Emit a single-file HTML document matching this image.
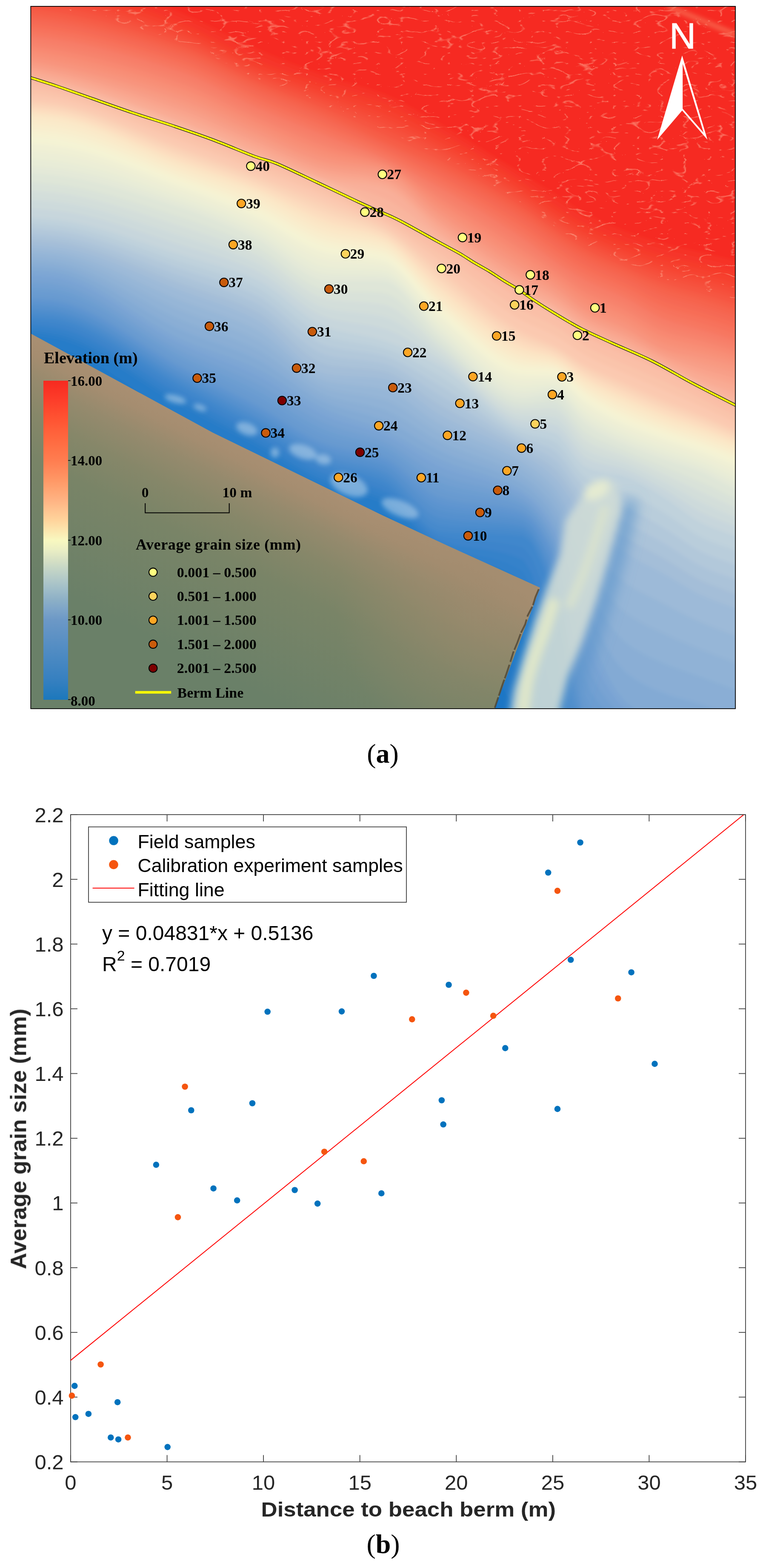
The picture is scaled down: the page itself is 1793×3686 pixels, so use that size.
<!DOCTYPE html>
<html><head><meta charset="utf-8"><title>Figure</title>
<style>html,body{margin:0;padding:0;background:#fff;}body{width:1793px;height:3686px;overflow:hidden;}svg{display:block;}</style>
</head><body>
<svg width="1793" height="3686" viewBox="0 0 1793 3686">
<rect x="0" y="0" width="1793" height="3686" fill="#fff"/>
<defs>
<clipPath id="mclip"><rect x="73" y="15" width="1655" height="1651"/></clipPath>
<filter id="fblur" x="-5%" y="-5%" width="110%" height="110%"><feGaussianBlur stdDeviation="4"/></filter>
<filter id="fblur16" filterUnits="userSpaceOnUse" x="0" y="0" width="1793" height="1700"><feGaussianBlur stdDeviation="16"/></filter>
<filter id="fblur6" filterUnits="userSpaceOnUse" x="0" y="0" width="1793" height="1700"><feGaussianBlur stdDeviation="6"/></filter>
<filter id="fblur8" filterUnits="userSpaceOnUse" x="0" y="0" width="1793" height="1700"><feGaussianBlur stdDeviation="9"/></filter>
<linearGradient id="landg" gradientUnits="userSpaceOnUse" x1="700" y1="1115" x2="470" y2="1560"><stop offset="0" stop-color="#a98f72"/><stop offset="0.07" stop-color="#a58d70"/><stop offset="0.18" stop-color="#958a6d"/><stop offset="0.32" stop-color="#868769"/><stop offset="0.5" stop-color="#798467"/><stop offset="1" stop-color="#6a8068"/></linearGradient>
<radialGradient id="landr" gradientUnits="userSpaceOnUse" cx="1120" cy="1430" r="330"><stop offset="0" stop-color="#9e8a6d" stop-opacity="0.6"/><stop offset="1" stop-color="#9e8a6d" stop-opacity="0"/></radialGradient>
<linearGradient id="cbar" x1="0" y1="0" x2="0" y2="1">
<stop offset="0.0000" stop-color="#f62a20"/>
<stop offset="0.0312" stop-color="#fa3425"/>
<stop offset="0.0625" stop-color="#fd3e2a"/>
<stop offset="0.0938" stop-color="#fe4a2e"/>
<stop offset="0.1250" stop-color="#ff5533"/>
<stop offset="0.1562" stop-color="#ff603a"/>
<stop offset="0.1875" stop-color="#ff6a40"/>
<stop offset="0.2188" stop-color="#ff7448"/>
<stop offset="0.2500" stop-color="#ff7d50"/>
<stop offset="0.2812" stop-color="#ff8a5b"/>
<stop offset="0.3125" stop-color="#ff9866"/>
<stop offset="0.3438" stop-color="#ffa674"/>
<stop offset="0.3750" stop-color="#ffb383"/>
<stop offset="0.4062" stop-color="#ffc490"/>
<stop offset="0.4375" stop-color="#ffd49c"/>
<stop offset="0.4688" stop-color="#fce6ae"/>
<stop offset="0.5000" stop-color="#f8f8c0"/>
<stop offset="0.5312" stop-color="#eaeec4"/>
<stop offset="0.5625" stop-color="#d6e0c4"/>
<stop offset="0.5938" stop-color="#c2d4c6"/>
<stop offset="0.6250" stop-color="#b0c8c8"/>
<stop offset="0.6562" stop-color="#9ebcc8"/>
<stop offset="0.6875" stop-color="#8cafc6"/>
<stop offset="0.7188" stop-color="#7ca4c8"/>
<stop offset="0.7500" stop-color="#6c98c6"/>
<stop offset="0.7812" stop-color="#6394c5"/>
<stop offset="0.8125" stop-color="#5a90c4"/>
<stop offset="0.8438" stop-color="#518cc3"/>
<stop offset="0.8750" stop-color="#4888c2"/>
<stop offset="0.9062" stop-color="#3f84c1"/>
<stop offset="0.9375" stop-color="#3680c0"/>
<stop offset="0.9688" stop-color="#297cbe"/>
<stop offset="1.0000" stop-color="#1c78bc"/>
</linearGradient>
<filter id="wisp" filterUnits="userSpaceOnUse" x="72" y="14" width="1657" height="1000"><feTurbulence type="turbulence" baseFrequency="0.018 0.04" numOctaves="2" seed="11" result="n"/><feColorMatrix in="n" type="matrix" values="0 0 0 0 1  0 0 0 0 0.50  0 0 0 0 0.36  -12 0 0 0 1.1"/></filter>
<clipPath id="redclip"><path d="M1780,-10 L40,-10 L40,7.9 L60,9.8 L80,11.9 L100,14.4 L120,17.1 L140,20.3 L160,23.8 L180,27.8 L200,32.1 L220,36.7 L240,41.7 L260,47 L280,52.6 L300,58.4 L320,64.5 L340,70.8 L360,77.3 L380,84 L400,90.9 L420,97.9 L440,105.2 L460,113.5 L480,122.8 L500,132.8 L520,143.1 L540,153.6 L560,163.9 L580,173.7 L600,182.9 L620,191.3 L640,199.5 L660,207.4 L680,215.1 L700,222.7 L720,230.4 L740,238.1 L760,246 L780,254.1 L800,262.2 L820,270.4 L840,278.6 L860,287 L880,295.5 L900,304.3 L920,313.2 L940,322.3 L960,331.5 L980,340.9 L1000,350.6 L1020,360.5 L1040,370.8 L1060,381.2 L1080,391.9 L1100,402.7 L1120,413.8 L1140,425.2 L1160,436.8 L1180,448.7 L1200,461 L1220,473.6 L1240,486.7 L1260,501.1 L1280,515.9 L1300,530 L1320,543.4 L1340,556.5 L1360,568.8 L1380,580 L1400,589.9 L1420,598.9 L1440,607.5 L1460,615.8 L1480,624.3 L1500,632.9 L1520,641.4 L1540,649.4 L1560,656.5 L1580,662.5 L1600,667.8 L1620,672.8 L1640,678 L1660,683.5 L1680,689.2 L1700,695.1 L1720,701.3 L1740,708.1 L1760,715.6 L1780,723.7 Z"/></clipPath>
</defs>
<g clip-path="url(#mclip)">
<g filter="url(#fblur)">
<rect x="40" y="-10" width="1740" height="1720" fill="#1a74c4"/>
<polygon points="30,900 50,900 70,900 90,900 110,900 130,900.4 150,903.7 170,909.8 190,918.5 210,929.4 230,942.2 250,956.6 270,972.2 290,988.7 310,1005.7 330,1022.9 350,1039.9 370,1056.5 390,1072.3 410,1086.9 430,1100 450,1112.1 470,1124.1 490,1135.9 510,1147.6 530,1159.2 550,1170.8 570,1182.5 590,1194.1 610,1206.2 630,1220.2 650,1235.5 670,1251.2 690,1266.1 710,1279.5 730,1290.2 750,1297.4 770,1300 790,1300 810,1300 830,1300 850,1300 870,1300 890,1300 910,1301.4 930,1311.7 950,1330.3 970,1355.1 990,1384 1010,1414.8 1030,1445.5 1050,1480.4 1070,1527.7 1090,1583.8 1110,1644.7 1130,1706.8 1150,1766.2 1170,1819 1190,1861.4 1210,1889.7 1230,1900 1250,1900 1270,1900 1290,1900 1310,1900 1330,1900 1350,1900 1370,1900 1390,1901.2 1410,1909.3 1430,1922.4 1450,1937 1470,1950 1490,1962.8 1510,1977.2 1530,1990 1550,1998.4 1570,2000 1590,2000 1610,2000 1630,2000 1650,2000 1670,2000 1690,2000 1710,2000 1730,2000 1750,2003.2 1770,2010.7 1790,2020 1780,-600 40,-600" fill="#1b75c4"/>
<polygon points="30,877 50,877.1 70,877.5 90,878 110,878.6 130,879.7 150,883.4 170,889.7 190,898.3 210,909 230,921.3 250,935.1 270,950 290,965.6 310,981.8 330,998.1 350,1014.4 370,1030.2 390,1045.3 410,1059.3 430,1072 450,1083.8 470,1095.5 490,1107 510,1118.5 530,1129.9 550,1141.3 570,1152.7 590,1164.2 610,1176.1 630,1189.5 650,1204 670,1218.7 690,1233 710,1245.9 730,1256.8 750,1264.7 770,1269 790,1270.7 810,1271.9 830,1272.7 850,1273.4 870,1274.4 890,1276 910,1279.4 930,1290.5 950,1308.8 970,1332.3 990,1359.2 1010,1387.7 1030,1415.9 1050,1445.7 1070,1482 1090,1522.9 1110,1567 1130,1612.4 1150,1657.5 1170,1700.5 1190,1739.7 1210,1773.5 1230,1800 1250,1821.2 1270,1839.4 1290,1854.2 1310,1864.8 1330,1872.5 1350,1879 1370,1885.9 1390,1894.7 1410,1905.2 1430,1916.8 1450,1928.6 1470,1940 1490,1952.8 1510,1967.2 1530,1980 1550,1988.4 1570,1990 1590,1990 1610,1990 1630,1990 1650,1990 1670,1990.3 1690,1991.1 1710,1992.4 1730,1994.1 1750,1998.2 1770,2005.3 1790,2014 1780,-600 40,-600" fill="#1e76c5"/>
<polygon points="30,854 50,854.3 70,855 90,856 110,857.3 130,859.1 150,863.1 170,869.5 190,878.1 210,888.4 230,900.3 250,913.5 270,927.6 290,942.5 310,957.8 330,973.4 350,988.8 370,1003.8 390,1018.2 410,1031.7 430,1044 450,1055.5 470,1066.9 490,1078.2 510,1089.4 530,1100.6 550,1111.8 570,1123 590,1134.3 610,1145.9 630,1158.8 650,1172.6 670,1186.6 690,1200.3 710,1212.9 730,1223.8 750,1232.4 770,1238 790,1241.3 810,1243.5 830,1245.2 850,1246.9 870,1249 890,1252 910,1257.2 930,1269.2 950,1287.1 970,1309.5 990,1334.5 1010,1360.7 1030,1386.3 1050,1411.7 1070,1439.2 1090,1468.7 1110,1499.7 1130,1532 1150,1565.1 1170,1598.8 1190,1632.8 1210,1666.6 1230,1700 1250,1736.4 1270,1774.6 1290,1807.6 1310,1829.9 1330,1846.8 1350,1860.9 1370,1873.7 1390,1886.2 1410,1897.8 1430,1908.7 1450,1919.3 1470,1930 1490,1942.8 1510,1957.2 1530,1970 1550,1978.4 1570,1980 1590,1980 1610,1980 1630,1980 1650,1980 1670,1980.7 1690,1982.5 1710,1985.1 1730,1988.2 1750,1992.9 1770,1999.8 1790,2008 1780,-600 40,-600" fill="#2178c6"/>
<polygon points="30,831 50,831.4 70,832.5 90,834.1 110,836 130,838.3 150,842.8 170,849.3 190,857.7 210,867.8 230,879.2 250,891.8 270,905.2 290,919.3 310,933.9 330,948.5 350,963.2 370,977.5 390,991.2 410,1004.1 430,1016 450,1027.2 470,1038.3 490,1049.3 510,1060.3 530,1071.3 550,1082.2 570,1093.3 590,1104.4 610,1115.8 630,1128.2 650,1141.4 670,1154.8 690,1167.9 710,1180.1 730,1191.1 750,1200.2 770,1207 790,1211.6 810,1215 830,1217.8 850,1220.4 870,1223.7 890,1228.2 910,1235 930,1247.7 950,1265.4 970,1286.7 990,1310.1 1010,1333.9 1030,1356.8 1050,1377.9 1070,1398.5 1090,1419 1110,1439.8 1130,1461.6 1150,1484.6 1170,1509.5 1190,1536.8 1210,1566.7 1230,1600 1250,1647.1 1270,1706.6 1290,1760.6 1310,1795.1 1330,1821.7 1350,1843.9 1370,1862.1 1390,1877.1 1410,1889.3 1430,1899.8 1450,1909.6 1470,1920 1490,1932.8 1510,1947.2 1530,1960 1550,1968.4 1570,1970 1590,1970 1610,1970 1630,1970 1650,1970 1670,1971.1 1690,1974 1710,1977.9 1730,1982.2 1750,1987.5 1770,1994.2 1790,2002 1780,-600 40,-600" fill="#247ac7"/>
<polygon points="30,808 50,808.5 70,810 90,812.1 110,814.7 130,817.6 150,822.4 170,829 190,837.3 210,847.1 230,858 250,870 270,882.7 290,896.1 310,909.8 330,923.7 350,937.5 370,951.1 390,964.2 410,976.5 430,988 450,998.9 470,1009.7 490,1020.5 510,1031.2 530,1041.9 550,1052.7 570,1063.6 590,1074.5 610,1085.7 630,1097.7 650,1110.3 670,1123.1 690,1135.7 710,1147.7 730,1158.7 750,1168.2 770,1176 790,1181.9 810,1186.4 830,1190.2 850,1194.1 870,1198.6 890,1204.4 910,1212.7 930,1226.1 950,1243.9 970,1264.3 990,1286.1 1010,1307.6 1030,1327.3 1050,1344.2 1070,1358.9 1090,1372.3 1110,1385.1 1130,1398.4 1150,1412.9 1170,1429.4 1190,1448.9 1210,1472.1 1230,1500 1250,1554.5 1270,1636.1 1290,1713.1 1310,1760.4 1330,1796.9 1350,1827.2 1370,1850.9 1390,1867.6 1410,1880.2 1430,1890.4 1450,1899.9 1470,1910 1490,1922.8 1510,1937.2 1530,1950 1550,1958.4 1570,1960 1590,1960 1610,1960 1630,1960 1650,1960 1670,1961.6 1690,1965.6 1710,1970.9 1730,1976.3 1750,1981.9 1770,1988.6 1790,1996 1780,-600 40,-600" fill="#277bc8"/>
<polygon points="30,785 50,785.9 70,787.8 90,790.3 110,793.4 130,796.9 150,802 170,808.7 190,816.8 210,826.2 230,836.7 250,848.1 270,860.2 290,872.8 310,885.7 330,898.8 350,911.8 370,924.7 390,937.1 410,948.9 430,960 450,970.6 470,981.1 490,991.6 510,1002.1 530,1012.6 550,1023.2 570,1033.8 590,1044.6 610,1055.5 630,1067.2 650,1079.3 670,1091.6 690,1103.7 710,1115.5 730,1126.4 750,1136.4 770,1145 790,1152 810,1157.7 830,1162.8 850,1167.9 870,1173.6 890,1180.7 910,1190.3 930,1204.7 950,1222.7 970,1242.8 990,1263.2 1010,1282.1 1030,1298 1050,1309.9 1070,1319.3 1090,1326.8 1110,1333.5 1130,1340 1150,1347.2 1170,1356 1190,1367.2 1210,1381.6 1230,1400 1250,1459.3 1270,1563.8 1290,1665.3 1310,1725.6 1330,1772.2 1350,1810.9 1370,1839.8 1390,1858 1410,1870.9 1430,1880.9 1450,1890 1470,1900 1490,1912.8 1510,1927.2 1530,1940 1550,1948.4 1570,1950 1590,1950 1610,1950 1630,1950 1650,1950 1670,1952.1 1690,1957.3 1710,1963.9 1730,1970.3 1750,1976.4 1770,1983 1790,1990 1780,-600 40,-600" fill="#2b7dc8"/>
<polygon points="30,777 50,777.7 70,779.3 90,781.7 110,784.5 130,787.7 150,792.6 170,799.1 190,807.1 210,816.4 230,826.8 250,838.1 270,850.2 290,862.8 310,875.7 330,888.8 350,901.9 370,914.7 390,927.1 410,939 430,950 450,960.6 470,971.1 490,981.6 510,992.1 530,1002.6 550,1013.2 570,1023.8 590,1034.6 610,1045.6 630,1057.2 650,1069.4 670,1081.7 690,1093.9 710,1105.6 730,1116.6 750,1126.5 770,1135 790,1141.8 810,1147.4 830,1152.3 850,1157.3 870,1162.9 890,1169.8 910,1179.3 930,1194 950,1212.8 970,1233.5 990,1254.3 1010,1273.2 1030,1288.2 1050,1298.8 1070,1306.8 1090,1313.1 1110,1318.5 1130,1323.6 1150,1329.3 1170,1336.2 1190,1345.1 1210,1356.8 1230,1372 1250,1421.5 1270,1511.1 1290,1603.9 1310,1670.9 1330,1732.4 1350,1787.3 1370,1827.7 1390,1848.4 1410,1861.6 1430,1871.5 1450,1880.2 1470,1890 1490,1902.8 1510,1917.2 1530,1930 1550,1938.4 1570,1940 1590,1940 1610,1940 1630,1940 1650,1940 1670,1942.1 1690,1947.3 1710,1953.9 1730,1960.3 1750,1966.4 1770,1973 1790,1980 1780,-600 40,-600" fill="#3080c9"/>
<polygon points="30,769 50,769.5 70,771 90,773.1 110,775.7 130,778.6 150,783.2 170,789.5 190,797.4 210,806.6 230,816.9 250,828.1 270,840.2 290,852.7 310,865.7 330,878.8 350,891.9 370,904.7 390,917.1 410,929 430,940 450,950.5 470,961 490,971.5 510,982 530,992.6 550,1003.2 570,1013.8 590,1024.6 610,1035.6 630,1047.2 650,1059.4 670,1071.8 690,1084 710,1095.8 730,1106.8 750,1116.6 770,1125 790,1131.7 810,1137.1 830,1141.9 850,1146.6 870,1152.1 890,1158.9 910,1168.3 930,1183.5 950,1203 970,1224.5 990,1245.7 1010,1264.5 1030,1278.5 1050,1287.4 1070,1294 1090,1299.1 1110,1303.2 1130,1307 1150,1311.1 1170,1316.2 1190,1323 1210,1332 1230,1344 1250,1384.5 1270,1460.3 1290,1543.9 1310,1614.6 1330,1690.4 1350,1762.5 1370,1815.5 1390,1838.7 1410,1852.1 1430,1861.8 1450,1870.3 1470,1880 1490,1892.8 1510,1907.2 1530,1920 1550,1928.4 1570,1930 1590,1930 1610,1930 1630,1930 1650,1930 1670,1932.1 1690,1937.3 1710,1943.9 1730,1950.3 1750,1956.4 1770,1963 1790,1970 1780,-600 40,-600" fill="#3682ca"/>
<polygon points="30,761 50,761.5 70,762.7 90,764.6 110,766.8 130,769.4 150,773.8 170,779.9 190,787.6 210,796.7 230,806.9 250,818.1 270,830.1 290,842.7 310,855.6 330,868.8 350,881.9 370,894.7 390,907.2 410,919 430,930 450,940.5 470,951 490,961.5 510,972 530,982.5 550,993.1 570,1003.8 590,1014.6 610,1025.6 630,1037.3 650,1049.5 670,1061.9 690,1074.2 710,1086 730,1096.9 750,1106.7 770,1115 790,1121.6 810,1126.8 830,1131.4 850,1136 870,1141.3 890,1148 910,1157.3 930,1173 950,1193.4 970,1215.7 990,1237.5 1010,1256 1030,1268.7 1050,1275.8 1070,1280.8 1090,1284.5 1110,1287.4 1130,1290 1150,1292.7 1170,1296.2 1190,1300.9 1210,1307.3 1230,1316 1250,1348.2 1270,1411.3 1290,1485.3 1310,1556.9 1330,1646.3 1350,1736.6 1370,1803.2 1390,1828.9 1410,1842.4 1430,1852.1 1450,1860.4 1470,1870 1490,1882.8 1510,1897.2 1530,1910 1550,1918.4 1570,1920 1590,1920 1610,1920 1630,1920 1650,1920 1670,1922.1 1690,1927.3 1710,1933.9 1730,1940.3 1750,1946.4 1770,1953 1790,1960 1780,-600 40,-600" fill="#3c84cb"/>
<polygon points="30,753 50,753.4 70,754.5 90,756.1 110,758 130,760.3 150,764.4 170,770.3 190,777.8 210,786.8 230,797 250,808.1 270,820.1 290,832.6 310,845.6 330,858.7 350,871.8 370,884.7 390,897.2 410,909 430,920 450,930.5 470,941 490,951.5 510,962 530,972.5 550,983.1 570,993.8 590,1004.6 610,1015.6 630,1027.3 650,1039.6 670,1052 690,1064.3 710,1076.1 730,1087.1 750,1096.8 770,1105 790,1111.4 810,1116.5 830,1121 850,1125.4 870,1130.6 890,1137.1 910,1146.3 930,1162.7 950,1184 970,1207.3 990,1229.6 1010,1247.9 1030,1259.1 1050,1263.8 1070,1267.1 1090,1269.4 1110,1271.1 1130,1272.5 1150,1274 1170,1276 1190,1278.7 1210,1282.6 1230,1288 1250,1312.5 1270,1364 1290,1427.9 1310,1497.9 1330,1600.4 1350,1709.5 1370,1790.7 1390,1819.1 1410,1832.6 1430,1842.3 1450,1850.5 1470,1860 1490,1872.8 1510,1887.2 1530,1900 1550,1908.4 1570,1910 1590,1910 1610,1910 1630,1910 1650,1910 1670,1912.1 1690,1917.3 1710,1923.9 1730,1930.3 1750,1936.4 1770,1943 1790,1950 1780,-600 40,-600" fill="#4187cc"/>
<polygon points="30,745 50,745.3 70,746.2 90,747.5 110,749.1 130,751.1 150,755 170,760.7 190,768.1 210,776.9 230,787 250,798.1 270,810 290,822.6 310,835.5 330,848.7 350,861.8 370,874.7 390,887.2 410,899 430,910 450,920.5 470,930.9 490,941.4 510,951.9 530,962.5 550,973.1 570,983.8 590,994.6 610,1005.6 630,1017.3 650,1029.7 670,1042.2 690,1054.5 710,1066.3 730,1077.2 750,1086.9 770,1095 790,1101.3 810,1106.2 830,1110.5 850,1114.8 870,1119.8 890,1126.1 910,1135.4 930,1152.5 950,1175 970,1199.5 990,1222.4 1010,1240.2 1030,1249.6 1050,1251.5 1070,1252.8 1090,1253.6 1110,1254.2 1130,1254.6 1150,1255.1 1170,1255.7 1190,1256.6 1210,1258 1230,1260 1250,1277.4 1270,1318 1290,1371.6 1310,1437.7 1330,1552.6 1350,1681.4 1370,1778.1 1390,1809.2 1410,1822.8 1430,1832.4 1450,1840.6 1470,1850 1490,1862.8 1510,1877.2 1530,1890 1550,1898.4 1570,1900 1590,1900 1610,1900 1630,1900 1650,1900 1670,1902.1 1690,1907.3 1710,1913.9 1730,1920.3 1750,1926.4 1770,1933 1790,1940 1780,-600 40,-600" fill="#478acc"/>
<polygon points="30,736 50,736.3 70,737.2 90,738.5 110,740.1 130,742.1 150,746 170,751.7 190,759.1 210,767.9 230,778 250,789.2 270,801.1 290,813.7 310,826.7 330,839.8 350,853 370,865.9 390,878.3 410,890.1 430,901 450,911.4 470,921.7 490,932.1 510,942.5 530,952.9 550,963.4 570,973.9 590,984.6 610,995.5 630,1007.3 650,1019.6 670,1032.2 690,1044.6 710,1056.5 730,1067.4 750,1077 770,1085 790,1091.1 810,1096 830,1100.2 850,1104.3 870,1109.2 890,1115.3 910,1124.2 930,1140.3 950,1161.6 970,1184.7 990,1206.6 1010,1223.9 1030,1233.4 1050,1236.2 1070,1238 1090,1239.3 1110,1240.2 1130,1240.9 1150,1241.6 1170,1242.6 1190,1244 1210,1246.1 1230,1249 1250,1265.7 1270,1303.3 1290,1353.1 1310,1416.7 1330,1531 1350,1660.5 1370,1758 1390,1789.2 1410,1802.8 1430,1812.4 1450,1820.6 1470,1830 1490,1842.2 1510,1855.3 1530,1867.5 1550,1876.7 1570,1881.4 1590,1883.9 1610,1885.7 1630,1887.5 1650,1890 1670,1893.9 1690,1898.9 1710,1904.5 1730,1910.3 1750,1916.4 1770,1923 1790,1930 1780,-600 40,-600" fill="#4e8dcd"/>
<polygon points="30,727 50,727.3 70,728.2 90,729.5 110,731.1 130,733.1 150,737 170,742.7 190,750.1 210,759 230,769.1 250,780.3 270,792.3 290,804.8 310,817.8 330,831 350,844.1 370,857 390,869.4 410,881.1 430,892 450,902.3 470,912.5 490,922.8 510,933 530,943.3 550,953.6 570,964.1 590,974.6 610,985.5 630,997.3 650,1009.6 670,1022.3 690,1034.7 710,1046.6 730,1057.5 750,1067.1 770,1075 790,1081 810,1085.7 830,1089.8 850,1093.8 870,1098.5 890,1104.4 910,1113 930,1128.2 950,1148.3 970,1170.1 990,1190.8 1010,1207.5 1030,1217.3 1050,1220.8 1070,1223.2 1090,1224.9 1110,1226.1 1130,1227.1 1150,1228.2 1170,1229.5 1190,1231.4 1210,1234.2 1230,1238 1250,1254 1270,1288.6 1290,1334.7 1310,1395.7 1330,1509.4 1350,1639.5 1370,1737.8 1390,1769.2 1410,1782.8 1430,1792.4 1450,1800.6 1470,1810 1490,1821.7 1510,1834 1530,1845.7 1550,1855.5 1570,1862.4 1590,1867.5 1610,1871.7 1630,1875.6 1650,1880 1670,1884.8 1690,1889.7 1710,1894.8 1730,1900.3 1750,1906.4 1770,1913 1790,1920 1780,-600 40,-600" fill="#5490ce"/>
<polygon points="30,718 50,718.3 70,719.2 90,720.5 110,722.1 130,724.1 150,728 170,733.7 190,741.2 210,750.1 230,760.2 250,771.4 270,783.4 290,796 310,809 330,822.1 350,835.2 370,848.1 390,860.5 410,872.2 430,883 450,893.2 470,903.4 490,913.4 510,923.5 530,933.7 550,943.9 570,954.2 590,964.7 610,975.5 630,987.2 650,999.6 670,1012.3 690,1024.8 710,1036.7 730,1047.7 750,1057.2 770,1065 790,1070.9 810,1075.5 830,1079.4 850,1083.3 870,1087.8 890,1093.5 910,1101.7 930,1116.2 950,1135 970,1155.5 990,1175.2 1010,1191.3 1030,1201.2 1050,1205.4 1070,1208.4 1090,1210.5 1110,1212 1130,1213.3 1150,1214.7 1170,1216.5 1190,1218.9 1210,1222.3 1230,1227 1250,1242.3 1270,1273.9 1290,1316.3 1310,1374.6 1330,1487.7 1350,1618.5 1370,1717.7 1390,1749.2 1410,1762.8 1430,1772.4 1450,1780.6 1470,1790 1490,1801.4 1510,1813 1530,1824.4 1550,1834.6 1570,1843.3 1590,1850.9 1610,1857.7 1630,1864.1 1650,1870 1670,1875.3 1690,1880.1 1710,1884.9 1730,1890.3 1750,1896.4 1770,1903 1790,1910 1780,-600 40,-600" fill="#5a93cf"/>
<polygon points="30,709 50,709.3 70,710.2 90,711.5 110,713.1 130,715.1 150,719 170,724.8 190,732.2 210,741.1 230,751.3 250,762.5 270,774.5 290,787.1 310,800.1 330,813.3 350,826.4 370,839.2 390,851.6 410,863.3 430,874 450,884.1 470,894.2 490,904.1 510,914.1 530,924.1 550,934.1 570,944.3 590,954.7 610,965.5 630,977.2 650,989.6 670,1002.4 690,1014.9 710,1026.9 730,1037.8 750,1047.4 770,1055 790,1060.7 810,1065.2 830,1069 850,1072.8 870,1077.1 890,1082.6 910,1090.5 930,1104.1 950,1121.7 970,1141 990,1159.6 1010,1175.1 1030,1185.1 1050,1190 1070,1193.4 1090,1196 1110,1197.9 1130,1199.6 1150,1201.3 1170,1203.5 1190,1206.4 1210,1210.5 1230,1216 1250,1230.6 1270,1259.2 1290,1298 1310,1353.4 1330,1465.9 1350,1597.4 1370,1697.5 1390,1729.2 1410,1742.8 1430,1752.4 1450,1760.6 1470,1770 1490,1781.1 1510,1792.3 1530,1803.3 1550,1813.9 1570,1824 1590,1834 1610,1843.8 1630,1852.6 1650,1860 1670,1865.7 1690,1870.5 1710,1875.1 1730,1880.3 1750,1886.4 1770,1893 1790,1900 1780,-600 40,-600" fill="#6196d0"/>
<polygon points="30,700 50,700.3 70,701.2 90,702.5 110,704.1 130,706.1 150,710 170,715.8 190,723.3 210,732.2 230,742.4 250,753.6 270,765.6 290,778.3 310,791.3 330,804.4 350,817.5 370,830.4 390,842.7 410,854.3 430,865 450,875.1 470,885 490,894.8 510,904.6 530,914.4 550,924.4 570,934.5 590,944.8 610,955.4 630,967.2 650,979.6 670,992.4 690,1005 710,1017 730,1028 750,1037.5 770,1045 790,1050.6 810,1055 830,1058.7 850,1062.3 870,1066.5 890,1071.8 910,1079.3 930,1092 950,1108.5 970,1126.5 990,1144.1 1010,1158.9 1030,1169 1050,1174.5 1070,1178.4 1090,1181.4 1110,1183.8 1130,1185.8 1150,1188 1170,1190.6 1190,1194.1 1210,1198.8 1230,1205 1250,1218.9 1270,1244.6 1290,1279.7 1310,1332.2 1330,1444.1 1350,1576.4 1370,1677.3 1390,1709.2 1410,1722.8 1430,1732.4 1450,1740.6 1470,1750 1490,1760.9 1510,1771.7 1530,1782.5 1550,1793.4 1570,1804.6 1590,1817.1 1610,1829.8 1630,1841.2 1650,1850 1670,1856 1690,1860.7 1710,1865.1 1730,1870.3 1750,1876.4 1770,1883 1790,1890 1780,-600 40,-600" fill="#679ad0"/>
<polygon points="30,687 50,687.3 70,688.2 90,689.5 110,691.1 130,693.2 150,697.1 170,702.9 190,710.4 210,719.4 230,729.7 250,741 270,753.1 290,765.8 310,778.9 330,792.1 350,805.1 370,817.9 390,830.1 410,841.6 430,852 450,861.7 470,871.2 490,880.5 510,889.7 530,899 550,908.3 570,918 590,927.9 610,938.3 630,949.9 650,962.3 670,975.1 690,987.8 710,1000 730,1011.2 750,1021 770,1029 790,1035.1 810,1039.9 830,1044.1 850,1048.2 870,1052.8 890,1058.5 910,1066.4 930,1078.5 950,1093.8 970,1110.4 990,1126.6 1010,1140.7 1030,1150.9 1050,1157.2 1070,1161.9 1090,1165.6 1110,1168.6 1130,1171.3 1150,1174.2 1170,1177.6 1190,1181.9 1210,1187.6 1230,1195 1250,1209.2 1270,1233.6 1290,1266.7 1310,1315.7 1330,1416.6 1350,1536.4 1370,1631.5 1390,1669.1 1410,1689.7 1430,1705 1450,1717.6 1470,1730 1490,1742.3 1510,1753.4 1530,1763.7 1550,1773.8 1570,1784.2 1590,1795.1 1610,1805.9 1630,1815.8 1650,1824 1670,1830.3 1690,1835.6 1710,1840.6 1730,1846.3 1750,1852.8 1770,1859.7 1790,1867 1780,-600 40,-600" fill="#6c9dd1"/>
<polygon points="30,674 50,674.3 70,675.2 90,676.5 110,678.1 130,680.2 150,684.1 170,690 190,697.6 210,706.7 230,717.1 250,728.5 270,740.7 290,753.4 310,766.5 330,779.7 350,792.8 370,805.4 390,817.5 410,828.8 430,839 450,848.4 470,857.4 490,866.1 510,874.8 530,883.5 550,892.3 570,901.5 590,911 610,921.2 630,932.7 650,945 670,957.8 690,970.6 710,983 730,994.5 750,1004.6 770,1013 790,1019.5 810,1024.9 830,1029.6 850,1034.2 870,1039.2 890,1045.4 910,1053.4 930,1065 950,1079.1 970,1094.3 990,1109.3 1010,1122.6 1030,1132.8 1050,1139.8 1070,1145.3 1090,1149.6 1110,1153.3 1130,1156.8 1150,1160.4 1170,1164.6 1190,1169.8 1210,1176.5 1230,1185 1250,1199.4 1270,1222.7 1290,1253.8 1310,1299.2 1330,1389.5 1350,1497.2 1370,1586 1390,1628.5 1410,1656 1430,1677.5 1450,1694.9 1470,1710 1490,1723.3 1510,1734.7 1530,1744.8 1550,1754.3 1570,1763.8 1590,1773.2 1610,1782.1 1630,1790.4 1650,1798 1670,1804.6 1690,1810.4 1710,1816.1 1730,1822.3 1750,1829.2 1770,1836.4 1790,1844 1780,-600 40,-600" fill="#72a0d2"/>
<polygon points="30,661 50,661.3 70,662.2 90,663.5 110,665.1 130,667.2 150,671.1 170,677.1 190,684.8 210,694 230,704.4 250,715.9 270,728.2 290,741 310,754.2 330,767.4 350,780.4 370,793 390,805 410,816.1 430,826 450,835 470,843.5 490,851.8 510,859.9 530,868 550,876.3 570,885 590,894.2 610,904.1 630,915.4 650,927.7 670,940.5 690,953.4 710,966 730,977.7 750,988.2 770,997 790,1004 810,1009.9 830,1015.1 850,1020.2 870,1025.7 890,1032.2 910,1040.4 930,1051.4 950,1064.4 970,1078.3 990,1092 1010,1104.5 1030,1114.7 1050,1122.3 1070,1128.5 1090,1133.5 1110,1138 1130,1142.2 1150,1146.7 1170,1151.8 1190,1157.9 1210,1165.5 1230,1175 1250,1189.5 1270,1211.6 1290,1240.9 1310,1282.8 1330,1362.9 1350,1458.8 1370,1541.1 1390,1587.4 1410,1621.5 1430,1649.6 1450,1672.2 1470,1690 1490,1704.1 1510,1715.8 1530,1725.8 1550,1734.8 1570,1743.4 1590,1751.2 1610,1758.4 1630,1765.2 1650,1772 1670,1778.7 1690,1785.1 1710,1791.5 1730,1798.4 1750,1805.6 1770,1813.2 1790,1821 1780,-600 40,-600" fill="#78a3d3"/>
<polygon points="30,648 50,648.3 70,649.2 90,650.5 110,652.1 130,654.2 150,658.2 170,664.2 190,672 210,681.3 230,691.8 250,703.4 270,715.8 290,728.7 310,741.9 330,755.1 350,768.1 370,780.6 390,792.5 410,803.3 430,813 450,821.6 470,829.7 490,837.4 510,845 530,852.6 550,860.3 570,868.5 590,877.3 610,887 630,898.1 650,910.3 670,923.2 690,936.2 710,949 730,961 750,971.8 770,981 790,988.5 810,994.9 830,1000.6 850,1006.2 870,1012.2 890,1019.1 910,1027.4 930,1037.9 950,1049.8 970,1062.4 990,1074.9 1010,1086.6 1030,1096.7 1050,1104.8 1070,1111.5 1090,1117.3 1110,1122.6 1130,1127.7 1150,1133 1170,1139 1190,1146.1 1210,1154.6 1230,1165 1250,1179.6 1270,1200.6 1290,1227.9 1310,1266.5 1330,1336.7 1350,1421.1 1370,1496.7 1390,1545.8 1410,1586.2 1430,1621.1 1450,1649.4 1470,1670 1490,1684.8 1510,1696.8 1530,1706.8 1550,1715.3 1570,1722.9 1590,1729.2 1610,1734.7 1630,1740.1 1650,1746 1670,1752.7 1690,1759.7 1710,1766.9 1730,1774.4 1750,1782 1770,1789.9 1790,1798 1780,-600 40,-600" fill="#7da6d4"/>
<polygon points="30,635 50,635.3 70,636.2 90,637.5 110,639.1 130,641.2 150,645.2 170,651.3 190,659.2 210,668.6 230,679.2 250,690.9 270,703.4 290,716.4 310,729.6 330,742.8 350,755.8 370,768.3 390,779.9 410,790.6 430,800 450,808.3 470,815.9 490,823.1 510,830.1 530,837.1 550,844.4 570,852.1 590,860.5 610,869.9 630,880.8 650,892.9 670,905.8 690,919 710,931.9 730,944.3 750,955.4 770,965 790,973 810,979.9 830,986.2 850,992.3 870,998.8 890,1006 910,1014.4 930,1024.2 950,1035.1 970,1046.5 990,1057.9 1010,1068.8 1030,1078.6 1050,1087.1 1070,1094.4 1090,1100.9 1110,1107 1130,1113.1 1150,1119.4 1170,1126.4 1190,1134.4 1210,1143.8 1230,1155 1250,1169.6 1270,1189.5 1290,1215 1310,1250.2 1330,1311 1350,1384.3 1370,1452.9 1390,1503.7 1410,1550 1430,1592 1450,1626.5 1470,1650 1490,1665.3 1510,1677.8 1530,1687.9 1550,1695.9 1570,1702.4 1590,1707.2 1610,1711.1 1630,1715.1 1650,1720 1670,1726.5 1690,1734.1 1710,1742.3 1730,1750.4 1750,1758.4 1770,1766.6 1790,1775 1780,-600 40,-600" fill="#83aad4"/>
<polygon points="30,623 50,623.3 70,624.2 90,625.5 110,627.1 130,629.1 150,632.9 170,638.6 190,645.9 210,654.5 230,664.3 250,675.1 270,686.6 290,698.6 310,710.8 330,723.1 350,735.1 370,746.8 390,757.8 410,768 430,777 450,785.1 470,792.5 490,799.7 510,806.6 530,813.7 550,821 570,828.8 590,837.4 610,847 630,858.7 650,871.9 670,886 690,900.3 710,914.4 730,927.4 750,938.8 770,948 790,955 810,960.8 830,965.9 850,970.9 870,976.2 890,982.4 910,990.1 930,999.9 950,1011.1 970,1023.2 990,1035.4 1010,1047.1 1030,1057.6 1050,1066.5 1070,1074.3 1090,1081.3 1110,1087.9 1130,1094.4 1150,1101.2 1170,1108.6 1190,1117 1210,1126.7 1230,1138 1250,1152.2 1270,1170.7 1290,1194.2 1310,1226.4 1330,1280.6 1350,1345.5 1370,1406 1390,1450.9 1410,1491.3 1430,1528 1450,1558.4 1470,1580 1490,1594.8 1510,1606.9 1530,1616.8 1550,1625.3 1570,1632.9 1590,1639.2 1610,1644.6 1630,1649.9 1650,1656 1670,1663 1690,1670.6 1710,1678.5 1730,1686.4 1750,1694.4 1770,1702.6 1790,1711 1780,-600 40,-600" fill="#8aaed5"/>
<polygon points="30,611 50,611.3 70,612.2 90,613.6 110,615.1 130,617.1 150,620.7 170,625.9 190,632.6 210,640.5 230,649.5 250,659.3 270,669.8 290,680.8 310,692 330,703.3 350,714.5 370,725.4 390,735.7 410,745.3 430,754 450,761.8 470,769.2 490,776.2 510,783.1 530,790.2 550,797.6 570,805.6 590,814.3 610,824.2 630,836.6 650,850.9 670,866.2 690,881.9 710,897 730,910.8 750,922.4 770,931 790,937 810,941.7 830,945.7 850,949.5 870,953.7 890,958.9 910,965.8 930,975.3 950,986.9 970,999.7 990,1012.8 1010,1025.4 1030,1036.5 1050,1045.9 1070,1054.2 1090,1061.7 1110,1068.8 1130,1075.9 1150,1083.1 1170,1090.9 1190,1099.6 1210,1109.5 1230,1121 1250,1134.7 1270,1151.9 1290,1173.4 1310,1202.5 1330,1250.2 1350,1306.6 1370,1359.2 1390,1398.1 1410,1432.7 1430,1464 1450,1490.3 1470,1510 1490,1524.3 1510,1536 1530,1545.9 1550,1554.8 1570,1563.4 1590,1571.1 1610,1578.1 1630,1584.9 1650,1592 1670,1599.4 1690,1607 1710,1614.6 1730,1622.4 1750,1630.4 1770,1638.6 1790,1647 1780,-600 40,-600" fill="#90b2d6"/>
<polygon points="30,599 50,599.3 70,600.2 90,601.6 110,603.2 130,605.1 150,608.4 170,613.2 190,619.3 210,626.5 230,634.6 250,643.6 270,653.1 290,663.1 310,673.3 330,683.7 350,693.9 370,704 390,713.6 410,722.7 430,731 450,738.6 470,745.8 490,752.7 510,759.6 530,766.8 550,774.2 570,782.3 590,791.2 610,801.4 630,814.5 650,830 670,846.7 690,863.7 710,879.9 730,894.4 750,906.1 770,914 790,918.9 810,922.5 830,925.4 850,928.1 870,931.3 890,935.4 910,941.3 930,950.6 950,962.6 970,976.1 990,990.1 1010,1003.6 1030,1015.4 1050,1025.3 1070,1034.1 1090,1042.2 1110,1049.8 1130,1057.4 1150,1065.2 1170,1073.4 1190,1082.4 1210,1092.5 1230,1104 1250,1117.3 1270,1133.1 1290,1152.6 1310,1178.6 1330,1219.7 1350,1267.8 1370,1312.3 1390,1345.2 1410,1374.1 1430,1400.1 1450,1422.3 1470,1440 1490,1453.7 1510,1465 1530,1475 1550,1484.3 1570,1493.8 1590,1502.9 1610,1511.5 1630,1519.9 1650,1528 1670,1535.8 1690,1543.3 1710,1550.7 1730,1558.4 1750,1566.4 1770,1574.6 1790,1583 1780,-600 40,-600" fill="#96b6d7"/>
<polygon points="30,587 50,587.3 70,588.2 90,589.6 110,591.2 130,593 150,596.1 170,600.5 190,606 210,612.5 230,619.8 250,627.8 270,636.4 290,645.4 310,654.7 330,664.1 350,673.4 370,682.7 390,691.6 410,700.1 430,708 450,715.3 470,722.3 490,729.2 510,736.1 530,743.3 550,750.9 570,759.1 590,768.1 610,778.6 630,792.5 650,809.1 670,827.3 690,845.6 710,863 730,878.2 750,889.9 770,897 790,900.6 810,903.1 830,905.1 850,906.9 870,909 890,912 910,916.8 930,925.7 950,938 970,952.3 990,967.4 1010,981.8 1030,994.4 1050,1004.7 1070,1014 1090,1022.7 1110,1030.9 1130,1039.1 1150,1047.3 1170,1056 1190,1065.3 1210,1075.6 1230,1087 1250,1099.7 1270,1114.3 1290,1131.8 1310,1154.7 1330,1189.3 1350,1229 1370,1265.5 1390,1292.4 1410,1315.6 1430,1336.3 1450,1354.5 1470,1370 1490,1382.9 1510,1394 1530,1404.1 1550,1413.9 1570,1424.2 1590,1434.7 1610,1445 1630,1454.9 1650,1464 1670,1472.1 1690,1479.5 1710,1486.8 1730,1494.4 1750,1502.4 1770,1510.6 1790,1519 1780,-600 40,-600" fill="#9dbad8"/>
<polygon points="30,575 50,575.3 70,576.3 90,577.6 110,579.2 130,581 150,583.9 170,587.8 190,592.8 210,598.5 230,605 250,612.2 270,619.8 290,627.8 310,636.1 330,644.5 350,653 370,661.4 390,669.6 410,677.5 430,685 450,692.1 470,698.9 490,705.7 510,712.6 530,719.8 550,727.5 570,735.8 590,745 610,755.7 630,770.5 650,788.4 670,808 690,827.9 710,846.4 730,862.3 750,874 770,880 790,882.2 810,883.7 830,884.7 850,885.7 870,886.9 890,888.8 910,892.2 930,900.6 950,913.2 970,928.3 990,944.5 1010,960 1030,973.3 1050,984.1 1070,994 1090,1003.3 1110,1012.2 1130,1020.9 1150,1029.7 1170,1038.7 1190,1048.3 1210,1058.7 1230,1070 1250,1082.2 1270,1095.5 1290,1111.1 1310,1130.8 1330,1158.7 1350,1190.1 1370,1218.6 1390,1239.7 1410,1257.2 1430,1272.8 1450,1286.9 1470,1300 1490,1312 1510,1322.9 1530,1333.1 1550,1343.5 1570,1354.5 1590,1366.4 1610,1378.5 1630,1390 1650,1400 1670,1408.4 1690,1415.8 1710,1422.9 1730,1430.4 1750,1438.4 1770,1446.6 1790,1455 1780,-600 40,-600" fill="#a4bed8"/>
<polygon points="30,562 50,562.3 70,563.3 90,564.6 110,566.2 130,568 150,570.8 170,574.6 190,579.4 210,584.9 230,591.2 250,598 270,605.3 290,613 310,621 330,629.1 350,637.2 370,645.3 390,653.2 410,660.8 430,668 450,674.8 470,681.4 490,688 510,694.7 530,701.7 550,709.1 570,717.2 590,726.2 610,736.6 630,750.8 650,767.9 670,786.8 690,805.9 710,823.9 730,839.5 750,851.3 770,858 790,861 810,863.1 830,864.6 850,866.1 870,867.8 890,870.3 910,874.5 930,882.7 950,894.3 970,908.1 990,922.9 1010,937.3 1030,950.3 1050,961.5 1070,972.4 1090,982.9 1110,993.3 1130,1003.7 1150,1014 1170,1024.4 1190,1035 1210,1045.8 1230,1057 1250,1067.8 1270,1078.7 1290,1091.4 1310,1108.8 1330,1135.5 1350,1166.1 1370,1193.6 1390,1212.5 1410,1227.4 1430,1240.4 1450,1252.3 1470,1264 1490,1275.5 1510,1286.2 1530,1296.7 1550,1307.3 1570,1318.7 1590,1331 1610,1343.7 1630,1355.7 1650,1366 1670,1374.4 1690,1381.8 1710,1388.9 1730,1396.4 1750,1404.4 1770,1412.6 1790,1421 1780,-600 40,-600" fill="#abc3d9"/>
<polygon points="30,549 50,549.3 70,550.3 90,551.6 110,553.2 130,555 150,557.7 170,561.4 190,566 210,571.3 230,577.3 250,583.9 270,590.9 290,598.2 310,605.9 330,613.6 350,621.4 370,629.2 390,636.7 410,644.1 430,651 450,657.6 470,664 490,670.3 510,676.8 530,683.5 550,690.8 570,698.7 590,707.3 610,717.4 630,731 650,747.5 670,765.6 690,784 710,801.5 730,816.8 750,828.7 770,836 790,839.8 810,842.5 830,844.6 850,846.5 870,848.8 890,852 910,856.7 930,864.7 950,875.4 970,887.9 990,901.4 1010,914.8 1030,927.3 1050,938.9 1070,950.7 1090,962.7 1110,974.8 1130,986.8 1150,998.8 1170,1010.6 1190,1022.1 1210,1033.3 1230,1044 1250,1053.2 1270,1061.7 1290,1071.7 1310,1086.8 1330,1112.3 1350,1142.1 1370,1168.5 1390,1185.3 1410,1197.6 1430,1208 1450,1217.7 1470,1228 1490,1238.8 1510,1249.5 1530,1260.2 1550,1271.2 1570,1282.8 1590,1295.6 1610,1308.8 1630,1321.3 1650,1332 1670,1340.5 1690,1347.9 1710,1354.9 1730,1362.4 1750,1370.4 1770,1378.6 1790,1387 1780,-600 40,-600" fill="#b2c8da"/>
<polygon points="30,536 50,536.3 70,537.3 90,538.6 110,540.2 130,542 150,544.6 170,548.2 190,552.6 210,557.7 230,563.5 250,569.7 270,576.4 290,583.5 310,590.7 330,598.2 350,605.6 370,613 390,620.3 410,627.3 430,634 450,640.3 470,646.5 490,652.6 510,658.9 530,665.4 550,672.4 570,680.1 590,688.5 610,698.2 630,711.3 650,727.1 670,744.4 690,762.2 710,779.1 730,794.2 750,806.2 770,814 790,818.5 810,821.9 830,824.6 850,827 870,829.9 890,833.6 910,838.9 930,846.7 950,856.5 970,867.8 990,879.9 1010,892.3 1030,904.3 1050,916.1 1070,929 1090,942.5 1110,956.5 1130,970.5 1150,984.2 1170,997.5 1190,1009.9 1210,1021.2 1230,1031 1250,1038.5 1270,1044.6 1290,1052 1310,1064.7 1330,1089 1350,1118.2 1370,1143.5 1390,1158 1410,1167.8 1430,1175.7 1450,1183.3 1470,1192 1490,1202.1 1510,1212.6 1530,1223.6 1550,1235 1570,1246.9 1590,1260.2 1610,1274 1630,1287 1650,1298 1670,1306.6 1690,1314 1710,1320.9 1730,1328.4 1750,1336.4 1770,1344.6 1790,1353 1780,-600 40,-600" fill="#b9cddb"/>
<polygon points="30,523 50,523.4 70,524.3 90,525.6 110,527.2 130,529 150,531.5 170,535 190,539.2 210,544.1 230,549.6 250,555.6 270,562 290,568.7 310,575.6 330,582.7 350,589.8 370,596.9 390,603.9 410,610.6 430,617 450,623.1 470,629 490,634.9 510,641 530,647.3 550,654.1 570,661.5 590,669.6 610,679 630,691.6 650,706.7 670,723.4 690,740.4 710,756.9 730,771.6 750,783.7 770,792 790,797.3 810,801.3 830,804.5 850,807.6 870,811.1 890,815.4 910,821.1 930,828.6 950,837.5 970,847.7 990,858.6 1010,869.9 1030,881.3 1050,893.4 1070,907.3 1090,922.5 1110,938.5 1130,954.6 1150,970.3 1170,985.1 1190,998.4 1210,1009.5 1230,1018 1250,1023.4 1270,1027.4 1290,1032.4 1310,1042.5 1330,1065.7 1350,1094.3 1370,1118.6 1390,1130.7 1410,1138 1430,1143.5 1450,1149 1470,1156 1490,1165.1 1510,1175.6 1530,1186.9 1550,1198.8 1570,1211 1590,1224.7 1610,1239.1 1630,1252.7 1650,1264 1670,1272.7 1690,1280 1710,1287 1730,1294.4 1750,1302.4 1770,1310.6 1790,1319 1780,-600 40,-600" fill="#c0d2dc"/>
<polygon points="30,510 50,510.4 70,511.3 90,512.6 110,514.2 130,515.9 150,518.5 170,521.8 190,525.8 210,530.5 230,535.7 250,541.4 270,547.5 290,553.9 310,560.5 330,567.2 350,574 370,580.8 390,587.4 410,593.8 430,600 450,605.9 470,611.6 490,617.2 510,623.1 530,629.2 550,635.7 570,642.9 590,650.7 610,659.8 630,671.9 650,686.4 670,702.3 690,718.7 710,734.7 730,749.2 750,761.3 770,770 790,775.9 810,780.6 830,784.6 850,788.3 870,792.3 890,797.1 910,803.2 930,810.4 950,818.5 970,827.5 990,837.3 1010,847.6 1030,858.4 1050,870.6 1070,885.6 1090,902.7 1110,920.9 1130,939.4 1150,957.2 1170,973.6 1190,987.6 1210,998.3 1230,1005 1250,1008.2 1270,1010.2 1290,1012.9 1310,1020.1 1330,1042.2 1350,1070.5 1370,1093.8 1390,1103.3 1410,1108 1430,1111.4 1450,1115 1470,1120 1490,1127.9 1510,1138.2 1530,1150.1 1550,1162.6 1570,1175.1 1590,1189.3 1610,1204.3 1630,1218.4 1650,1230 1670,1238.7 1690,1246.1 1710,1253 1730,1260.4 1750,1268.4 1770,1276.6 1790,1285 1780,-600 40,-600" fill="#c7d6dc"/>
<polygon points="30,489 50,489.5 70,490.5 90,491.8 110,493.4 130,495.2 150,497.7 170,501 190,504.9 210,509.5 230,514.6 250,520.1 270,526 290,532.3 310,538.7 330,545.3 350,552 370,558.7 390,565.3 410,571.8 430,578 450,584 470,590 490,596.1 510,602.3 530,608.9 550,615.9 570,623.4 590,631.6 610,640.9 630,653.2 650,667.6 670,683.4 690,699.6 710,715.1 730,729 750,740.3 770,748 790,752.8 810,756.5 830,759.4 850,762.2 870,765.3 890,769.4 910,775.1 930,783.3 950,793.5 970,805.3 990,818 1010,831.2 1030,844.1 1050,857.8 1070,874 1090,891.9 1110,910.6 1130,929.2 1150,947 1170,962.9 1190,976.1 1210,985.8 1230,991 1250,992.9 1270,994.1 1290,995.7 1310,1001.3 1330,1022 1350,1049.6 1370,1073.2 1390,1084 1410,1090 1430,1094.5 1450,1099 1470,1105 1490,1113.2 1510,1123 1530,1133.9 1550,1145.2 1570,1156.6 1590,1169.2 1610,1182.4 1630,1195.1 1650,1206 1670,1215 1690,1223 1710,1230.6 1730,1238.4 1750,1246.6 1770,1254.8 1790,1263 1780,-600 40,-600" fill="#cddadb"/>
<polygon points="30,468 50,468.5 70,469.6 90,470.9 110,472.5 130,474.4 150,476.9 170,480.1 190,484 210,488.5 230,493.4 250,498.8 270,504.6 290,510.7 310,517 330,523.4 350,530 370,536.6 390,543.2 410,549.7 430,556 450,562.2 470,568.5 490,574.9 510,581.6 530,588.6 550,596 570,604 590,612.5 610,622 630,634.4 650,648.9 670,664.6 690,680.5 710,695.6 730,708.9 750,719.3 770,726 790,729.7 810,732.4 830,734.4 850,736.4 870,738.7 890,741.9 910,746.9 930,755.9 950,768.3 970,782.9 990,798.8 1010,814.8 1030,829.9 1050,844.8 1070,862.1 1090,880.8 1110,900.1 1130,919 1150,936.7 1170,952.3 1190,964.8 1210,973.3 1230,977 1250,977.7 1270,978 1290,978.5 1310,982.3 1330,1001.7 1350,1028.8 1370,1052.7 1390,1064.6 1410,1071.9 1430,1077.6 1450,1083.2 1470,1090 1490,1098.4 1510,1107.7 1530,1117.6 1550,1127.9 1570,1138.2 1590,1149.2 1610,1160.6 1630,1171.7 1650,1182 1670,1191.2 1690,1199.8 1710,1208.1 1730,1216.4 1750,1224.7 1770,1232.9 1790,1241 1780,-600 40,-600" fill="#d3deda"/>
<polygon points="30,447 50,447.6 70,448.7 90,450.1 110,451.7 130,453.6 150,456.1 170,459.3 190,463.1 210,467.5 230,472.3 250,477.5 270,483.1 290,489.1 310,495.2 330,501.6 350,508.1 370,514.6 390,521.1 410,527.6 430,534 450,540.4 470,546.9 490,553.8 510,560.9 530,568.3 550,576.2 570,584.5 590,593.4 610,603.1 630,615.6 650,630.2 670,645.8 690,661.5 710,676.2 730,688.9 750,698.5 770,704 790,706.6 810,708.3 830,709.6 850,710.8 870,712.3 890,714.5 910,718.5 930,728.2 950,742.8 970,760.5 990,779.6 1010,798.6 1030,815.7 1050,831.7 1070,849.8 1090,869 1110,888.6 1130,907.6 1150,925.2 1170,940.4 1190,952.4 1210,960.2 1230,963 1250,962.6 1270,961.8 1290,961.1 1310,963.8 1330,982 1350,1008.4 1370,1032.3 1390,1045.2 1410,1053.8 1430,1060.8 1450,1067.5 1470,1075 1490,1083.5 1510,1092.3 1530,1101.3 1550,1110.5 1570,1119.7 1590,1129.2 1610,1138.9 1630,1148.5 1650,1158 1670,1167.3 1690,1176.6 1710,1185.7 1730,1194.4 1750,1202.9 1770,1211.1 1790,1219 1780,-600 40,-600" fill="#d9e2d9"/>
<polygon points="30,426 50,426.7 70,427.8 90,429.2 110,430.9 130,432.8 150,435.3 170,438.5 190,442.2 210,446.5 230,451.2 250,456.3 270,461.7 290,467.5 310,473.5 330,479.7 350,486.1 370,492.6 390,499.1 410,505.6 430,512 450,518.5 470,525.4 490,532.6 510,540.2 530,548.1 550,556.4 570,565.2 590,574.3 610,584.2 630,596.8 650,611.5 670,627.2 690,642.7 710,657 730,669.1 750,677.8 770,682 790,683.3 810,684.2 830,684.8 850,685.3 870,686.1 890,687.2 910,690.1 930,700.4 950,717.1 970,737.9 990,760.5 1010,782.5 1030,801.5 1050,818.4 1070,837 1090,856.5 1110,876.1 1130,894.9 1150,912.2 1170,927 1190,938.7 1210,946.3 1230,949 1250,947.8 1270,945.4 1290,943.3 1310,945.6 1330,963.1 1350,988.5 1370,1012 1390,1025.8 1410,1035.7 1430,1044.1 1450,1051.9 1470,1060 1490,1068.5 1510,1076.7 1530,1084.9 1550,1093.1 1570,1101.3 1590,1109.3 1610,1117.3 1630,1125.4 1650,1134 1670,1143.3 1690,1153.3 1710,1163.2 1730,1172.4 1750,1181 1770,1189.2 1790,1197 1780,-600 40,-600" fill="#dfe6d8"/>
<polygon points="30,405 50,405.7 70,406.9 90,408.3 110,410.1 130,412 150,414.6 170,417.7 190,421.3 210,425.5 230,430 250,435 270,440.3 290,446 310,451.8 330,457.9 350,464.2 370,470.6 390,477 410,483.5 430,490 450,496.7 470,503.9 490,511.5 510,519.5 530,527.9 550,536.7 570,545.8 590,555.2 610,565.3 630,578.1 650,592.9 670,608.6 690,624.1 710,638.1 730,649.5 750,657.2 770,660 790,660 810,660 830,660 850,660 870,660 890,660 910,661.5 930,672.4 950,691.4 970,715.3 990,741.3 1010,766.3 1030,787.4 1050,805.1 1070,824.1 1090,843.8 1110,863.4 1130,882 1150,899 1170,913.6 1190,925 1210,932.4 1230,935 1250,933 1270,928.9 1290,925.6 1310,927.5 1330,944.1 1350,968.6 1370,991.8 1390,1006.3 1410,1017.5 1430,1027.4 1450,1036.4 1470,1045 1490,1053.3 1510,1061.1 1530,1068.5 1550,1075.7 1570,1082.8 1590,1089.4 1610,1095.7 1630,1102.4 1650,1110 1670,1119.2 1690,1129.9 1710,1140.6 1730,1150.5 1750,1159.2 1770,1167.4 1790,1175 1780,-600 40,-600" fill="#e4e9d8"/>
<polygon points="30,387.6 50,388.3 70,389.5 90,391 110,392.8 130,394.9 150,397.6 170,400.9 190,404.8 210,409.2 230,414.1 250,419.5 270,425.2 290,431.2 310,437.5 330,444 350,450.6 370,457.4 390,464.2 410,470.9 430,477.6 450,484.4 470,491.7 490,499.2 510,507.2 530,515.5 550,524.1 570,533 590,542.3 610,552.2 630,564.4 650,578.5 670,593.4 690,608 710,621.4 730,632.5 750,640.4 770,644 790,644.9 810,645.5 830,645.9 850,646.2 870,646.7 890,647.5 910,650 930,661.5 950,680.4 970,704.1 990,729.7 1010,754.2 1030,775 1050,792.6 1070,811.5 1090,831.1 1110,850.5 1130,869 1150,885.9 1170,900.4 1190,911.7 1210,919 1230,921.6 1250,920.2 1270,917.2 1290,914.8 1310,916.8 1330,932.7 1350,956.3 1370,978.8 1390,993.3 1410,1004.8 1430,1014.9 1450,1024.2 1470,1033 1490,1041.4 1510,1049.1 1530,1056.5 1550,1063.7 1570,1070.8 1590,1077.4 1610,1083.8 1630,1090.5 1650,1098 1670,1106.9 1690,1116.9 1710,1127 1730,1136.4 1750,1145 1770,1153.2 1790,1161 1780,-600 40,-600" fill="#e8ecd7"/>
<polygon points="30,370.2 50,370.9 70,372.1 90,373.7 110,375.6 130,377.7 150,380.5 170,384.1 190,388.2 210,393 230,398.3 250,404 270,410.1 290,416.5 310,423.2 330,430.1 350,437.1 370,444.2 390,451.3 410,458.3 430,465.2 450,472.2 470,479.4 490,487 510,494.9 530,503.1 550,511.5 570,520.3 590,529.4 610,539 630,550.8 650,564.1 670,578.2 690,592.1 710,604.9 730,615.7 750,623.7 770,628 790,629.7 810,630.9 830,631.7 850,632.4 870,633.4 890,635 910,638.5 930,650.4 950,669.5 970,692.9 990,718 1010,742.1 1030,762.6 1050,780.1 1070,798.9 1090,818.3 1110,837.6 1130,856 1150,872.8 1170,887.1 1190,898.3 1210,905.6 1230,908.2 1250,907.3 1270,905.5 1290,904 1310,906.1 1330,921.4 1350,944.1 1370,965.9 1390,980.4 1410,992 1430,1002.5 1450,1012 1470,1021 1490,1029.4 1510,1037.2 1530,1044.5 1550,1051.7 1570,1058.8 1590,1065.5 1610,1072 1630,1078.6 1650,1086 1670,1094.5 1690,1103.8 1710,1113.4 1730,1122.4 1750,1130.9 1770,1139.1 1790,1147 1780,-600 40,-600" fill="#eceed6"/>
<polygon points="30,352.8 50,353.5 70,354.8 90,356.4 110,358.4 130,360.6 150,363.5 170,367.3 190,371.7 210,376.8 230,382.4 250,388.5 270,395 290,401.8 310,408.9 330,416.2 350,423.6 370,431 390,438.4 410,445.7 430,452.8 450,459.9 470,467.2 490,474.8 510,482.6 530,490.6 550,499 570,507.6 590,516.5 610,525.9 630,537.2 650,549.8 670,563.1 690,576.2 710,588.4 730,599 750,607.1 770,612 790,614.5 810,616.2 830,617.5 850,618.7 870,620.2 890,622.5 910,626.9 930,639.4 950,658.4 970,681.6 990,706.3 1010,730 1030,750.2 1050,767.6 1070,786.3 1090,805.6 1110,824.8 1130,843 1150,859.7 1170,873.9 1190,885 1210,892.2 1230,894.8 1250,894.5 1270,893.8 1290,893.3 1310,895.4 1330,910 1350,931.8 1370,953.1 1390,967.4 1410,979.3 1430,990 1450,999.8 1470,1009 1490,1017.5 1510,1025.2 1530,1032.6 1550,1039.7 1570,1046.8 1590,1053.5 1610,1060.1 1630,1066.8 1650,1074 1670,1082.1 1690,1090.8 1710,1099.8 1730,1108.4 1750,1116.7 1770,1124.9 1790,1133 1780,-600 40,-600" fill="#f0f0d5"/>
<polygon points="30,335.4 50,336.1 70,337.4 90,339.1 110,341.1 130,343.4 150,346.5 170,350.5 190,355.2 210,360.6 230,366.6 250,373 270,379.9 290,387.2 310,394.7 330,402.4 350,410.1 370,417.9 390,425.6 410,433.1 430,440.4 450,447.6 470,455 490,462.5 510,470.3 530,478.2 550,486.4 570,494.8 590,503.5 610,512.8 630,523.6 650,535.6 670,548.1 690,560.5 710,572.2 730,582.4 750,590.6 770,596 790,599.2 810,601.5 830,603.2 850,604.9 870,607 890,610 910,615.4 930,628.2 950,647.3 970,670.2 990,694.5 1010,717.9 1030,737.8 1050,755.1 1070,773.5 1090,792.5 1110,811.4 1130,829.3 1150,845.7 1170,859.8 1190,871 1210,878.4 1230,881.4 1250,881.8 1270,882 1290,882.3 1310,884.9 1330,899.1 1350,919.8 1370,940.2 1390,954.4 1410,966.5 1430,977.5 1450,987.7 1470,997 1490,1005.5 1510,1013.3 1530,1020.6 1550,1027.7 1570,1034.8 1590,1041.6 1610,1048.2 1630,1054.9 1650,1062 1670,1069.7 1690,1077.8 1710,1086.2 1730,1094.4 1750,1102.6 1770,1110.8 1790,1119 1780,-600 40,-600" fill="#f4f3d4"/>
<polygon points="30,318 50,318.7 70,320.1 90,321.8 110,323.9 130,326.3 150,329.5 170,333.7 190,338.7 210,344.4 230,350.7 250,357.6 270,364.9 290,372.6 310,380.5 330,388.6 350,396.7 370,404.8 390,412.8 410,420.5 430,428 450,435.3 470,442.7 490,450.2 510,457.9 530,465.8 550,473.8 570,482.1 590,490.6 610,499.6 630,510 650,521.3 670,533.1 690,544.9 710,556 730,565.9 750,574.1 770,580 790,583.9 810,586.7 830,588.9 850,591.1 870,593.8 890,597.6 910,603.8 930,617 950,636.1 970,658.8 990,682.7 1010,705.7 1030,725.5 1050,742.5 1070,760.6 1090,779.1 1110,797.3 1130,814.8 1150,830.8 1170,844.7 1190,856 1210,864 1230,868 1250,869.3 1270,870.1 1290,871.1 1310,874.8 1330,888.6 1350,908.1 1370,927.4 1390,941.4 1410,953.7 1430,965 1450,975.5 1470,985 1490,993.6 1510,1001.3 1530,1008.6 1550,1015.7 1570,1022.8 1590,1029.7 1610,1036.3 1630,1043 1650,1050 1670,1057.3 1690,1064.8 1710,1072.5 1730,1080.4 1750,1088.4 1770,1096.6 1790,1105 1780,-600 40,-600" fill="#f7f2d2"/>
<polygon points="30,306.8 50,307.5 70,308.8 90,310.5 110,312.6 130,315 150,318.4 170,322.7 190,327.8 210,333.8 230,340.4 250,347.5 270,355.1 290,363 310,371.2 330,379.6 350,387.9 370,396.2 390,404.4 410,412.3 430,419.8 450,427 470,434.3 490,441.6 510,449 530,456.6 550,464.3 570,472.4 590,480.7 610,489.6 630,499.7 650,510.9 670,522.6 690,534.3 710,545.3 730,555.3 750,563.7 770,570 790,574.3 810,577.4 830,580 850,582.5 870,585.6 890,589.8 910,596.5 930,609.9 950,629 970,651.4 990,675 1010,697.7 1030,717.2 1050,734.2 1070,752 1090,770.1 1110,787.9 1130,805.1 1150,820.9 1170,834.8 1190,846.3 1210,854.8 1230,859.8 1250,861.9 1270,863.3 1290,865.1 1310,869.7 1330,883.3 1350,901.9 1370,920.2 1390,933.7 1410,945.6 1430,956.6 1450,966.8 1470,976.3 1490,985 1510,993.1 1530,1000.7 1550,1008.1 1570,1015.4 1590,1022.2 1610,1028.9 1630,1035.5 1650,1042.5 1670,1049.8 1690,1057.3 1710,1065 1730,1072.9 1750,1080.9 1770,1089.1 1790,1097.5 1780,-600 40,-600" fill="#f8efcf"/>
<polygon points="30,295.5 50,296.2 70,297.5 90,299.3 110,301.4 130,303.8 150,307.2 170,311.6 190,317 210,323.2 230,330 250,337.4 270,345.3 290,353.5 310,362 330,370.6 350,379.2 370,387.7 390,396 410,404 430,411.5 450,418.7 470,425.8 490,432.9 510,440.1 530,447.4 550,454.9 570,462.6 590,470.8 610,479.5 630,489.5 650,500.6 670,512.1 690,523.7 710,534.7 730,544.8 750,553.4 770,560 790,564.7 810,568.1 830,571 850,573.9 870,577.4 890,582.1 910,589.2 930,602.8 950,621.8 970,643.9 990,667.2 1010,689.6 1030,709 1050,725.8 1070,743.3 1090,761.1 1110,778.6 1130,795.4 1150,811 1170,824.9 1190,836.6 1210,845.6 1230,851.5 1250,854.6 1270,856.6 1290,859.1 1310,864.6 1330,878 1350,895.7 1370,913 1390,926.1 1410,937.5 1430,948.1 1450,958.1 1470,967.5 1490,976.4 1510,984.8 1530,992.8 1550,1000.5 1570,1007.9 1590,1014.8 1610,1021.4 1630,1028.1 1650,1035 1670,1042.3 1690,1049.8 1710,1057.5 1730,1065.4 1750,1073.4 1770,1081.6 1790,1090 1780,-600 40,-600" fill="#f9eccc"/>
<polygon points="30,284.3 50,284.9 70,286.2 90,288 110,290.1 130,292.6 150,296 170,300.6 190,306.2 210,312.6 230,319.7 250,327.4 270,335.5 290,344.1 310,352.8 330,361.7 350,370.5 370,379.2 390,387.7 410,395.7 430,403.3 450,410.4 470,417.3 490,424.2 510,431.1 530,438.2 550,445.4 570,452.9 590,460.9 610,469.4 630,479.3 650,490.2 670,501.6 690,513.1 710,524.1 730,534.3 750,543.1 770,550 790,555 810,558.9 830,562.1 850,565.4 870,569.2 890,574.3 910,581.9 930,595.7 950,614.6 970,636.5 990,659.4 1010,681.5 1030,700.7 1050,717.5 1070,734.8 1090,752.2 1110,769.4 1130,785.9 1150,801.3 1170,815.2 1190,827.1 1210,836.6 1230,843.3 1250,847.2 1270,849.8 1290,853.1 1310,859.4 1330,872.6 1350,889.4 1370,905.8 1390,918.4 1410,929.4 1430,939.7 1450,949.4 1470,958.8 1490,967.8 1510,976.6 1530,984.9 1550,992.9 1570,1000.5 1590,1007.4 1610,1014 1630,1020.6 1650,1027.5 1670,1034.8 1690,1042.3 1710,1050 1730,1057.9 1750,1065.9 1770,1074.1 1790,1082.5 1780,-600 40,-600" fill="#fae9c9"/>
<polygon points="30,273 50,273.6 70,274.9 90,276.7 110,278.9 130,281.3 150,284.9 170,289.6 190,295.3 210,302 230,309.3 250,317.3 270,325.8 290,334.6 310,343.6 330,352.8 350,361.8 370,370.7 390,379.3 410,387.4 430,395 450,402.1 470,408.9 490,415.5 510,422.2 530,429 550,435.9 570,443.2 590,450.9 610,459.3 630,469.1 650,479.8 670,491.1 690,502.5 710,513.6 730,523.8 750,532.8 770,540 790,545.4 810,549.6 830,553.2 850,556.8 870,561 890,566.6 910,574.6 930,588.6 950,607.3 970,629 990,651.6 1010,673.4 1030,692.5 1050,709.1 1070,726.2 1090,743.3 1110,760.2 1130,776.5 1150,791.7 1170,805.5 1190,817.6 1210,827.6 1230,835 1250,839.8 1270,843.2 1290,847.2 1310,854.2 1330,867.1 1350,883.1 1370,898.5 1390,910.7 1410,921.3 1430,931.2 1450,940.7 1470,950 1490,959.2 1510,968.3 1530,977 1550,985.3 1570,993 1590,1000 1610,1006.5 1630,1013.1 1650,1020 1670,1027.3 1690,1034.8 1710,1042.5 1730,1050.4 1750,1058.4 1770,1066.6 1790,1075 1780,-600 40,-600" fill="#fbe6c6"/>
<polygon points="30,266.2 50,266.8 70,268.2 90,270 110,272.2 130,274.7 150,278.2 170,282.9 190,288.6 210,295.1 230,302.4 250,310.2 270,318.6 290,327.3 310,336.2 330,345.2 350,354.1 370,362.9 390,371.4 410,379.5 430,387 450,394.1 470,401 490,407.7 510,414.5 530,421.4 550,428.4 570,435.8 590,443.5 610,451.8 630,461.1 650,471.2 670,481.9 690,492.6 710,503 730,512.8 750,521.7 770,529.2 790,535.1 810,539.8 830,544.1 850,548.3 870,553.3 890,559.5 910,568.2 930,582.1 950,600.2 970,620.8 990,642.3 1010,663.2 1030,681.7 1050,698.2 1070,715.1 1090,732.1 1110,749 1130,765.2 1150,780.6 1170,794.7 1190,807.2 1210,817.7 1230,825.8 1250,831.3 1270,835.4 1290,840.1 1310,847.8 1330,860.7 1350,876.2 1370,891.2 1390,903.1 1410,913.5 1430,923.2 1450,932.5 1470,941.7 1490,950.8 1510,959.9 1530,968.6 1550,976.9 1570,984.7 1590,991.8 1610,998.6 1630,1005.4 1650,1012.5 1670,1020 1690,1027.8 1710,1035.7 1730,1043.7 1750,1051.8 1770,1060 1790,1068.3 1780,-600 40,-600" fill="#fce2c2"/>
<polygon points="30,259.3 50,260.1 70,261.4 90,263.3 110,265.5 130,268 150,271.6 170,276.2 190,281.9 210,288.3 230,295.4 250,303.2 270,311.4 290,319.9 310,328.7 330,337.5 350,346.4 370,355.1 390,363.5 410,371.5 430,379 450,386.1 470,393.1 490,400 510,406.9 530,413.8 550,421 570,428.3 590,436 610,444.2 630,453.1 650,462.7 670,472.6 690,482.7 710,492.5 730,501.9 750,510.6 770,518.3 790,524.7 810,530.1 830,534.9 850,539.9 870,545.6 890,552.5 910,561.8 930,575.5 950,592.9 970,612.6 990,633 1010,652.9 1030,670.9 1050,687.2 1070,704 1090,720.9 1110,737.7 1130,754.1 1150,769.6 1170,783.9 1190,796.8 1210,807.8 1230,816.7 1250,822.9 1270,827.7 1290,833.1 1310,841.4 1330,854.2 1350,869.3 1370,883.8 1390,895.5 1410,905.7 1430,915.2 1450,924.3 1470,933.3 1490,942.4 1510,951.4 1530,960.1 1550,968.5 1570,976.4 1590,983.7 1610,990.7 1630,997.7 1650,1005 1670,1012.8 1690,1020.8 1710,1028.9 1730,1037.1 1750,1045.2 1770,1053.4 1790,1061.7 1780,-600 40,-600" fill="#fcddbf"/>
<polygon points="30,252.5 50,253.3 70,254.7 90,256.6 110,258.8 130,261.4 150,264.9 170,269.6 190,275.1 210,281.5 230,288.5 250,296.1 270,304.2 290,312.6 310,321.2 330,329.9 350,338.6 370,347.2 390,355.6 410,363.5 430,371 450,378.1 470,385.2 490,392.2 510,399.2 530,406.3 550,413.5 570,420.9 590,428.6 610,436.6 630,445.1 650,454.2 670,463.5 690,472.9 710,482.1 730,491.1 750,499.6 770,507.5 790,514.3 810,520.2 830,525.8 850,531.5 870,537.9 890,545.5 910,555.3 930,568.9 950,585.6 970,604.3 990,623.7 1010,642.7 1030,660.1 1050,676.2 1070,692.8 1090,709.7 1110,726.5 1130,742.9 1150,758.6 1170,773.2 1190,786.4 1210,798 1230,807.5 1250,814.5 1270,820 1290,826.1 1310,834.9 1330,847.8 1350,862.4 1370,876.5 1390,887.9 1410,897.8 1430,907.1 1450,916.1 1470,925 1490,934 1510,943 1530,951.7 1550,960.1 1570,968.1 1590,975.6 1610,982.8 1630,990 1650,997.5 1670,1005.5 1690,1013.8 1710,1022.1 1730,1030.4 1750,1038.6 1770,1046.8 1790,1055 1780,-600 40,-600" fill="#fcd8bb"/>
<polygon points="30,245.7 50,246.5 70,248 90,249.9 110,252.1 130,254.7 150,258.3 170,262.9 190,268.4 210,274.6 230,281.6 250,289 270,297 290,305.2 310,313.7 330,322.3 350,330.9 370,339.4 390,347.6 410,355.5 430,363 450,370.2 470,377.3 490,384.4 510,391.5 530,398.7 550,406.1 570,413.5 590,421.1 610,429 630,437.2 650,445.7 670,454.4 690,463.1 710,471.8 730,480.4 750,488.7 770,496.7 790,503.9 810,510.4 830,516.6 850,523.1 870,530.2 890,538.6 910,548.8 930,562.2 950,578.3 970,596 990,614.3 1010,632.4 1030,649.3 1050,665.2 1070,681.7 1090,698.5 1110,715.3 1130,731.7 1150,747.6 1170,762.5 1190,776.1 1210,788.1 1230,798.3 1250,806.1 1270,812.4 1290,819.2 1310,828.5 1330,841.2 1350,855.5 1370,869.1 1390,880.3 1410,890 1430,899.1 1450,907.9 1470,916.7 1490,925.6 1510,934.5 1530,943.3 1550,951.7 1570,959.9 1590,967.5 1610,974.9 1630,982.3 1650,990 1670,998.2 1690,1006.7 1710,1015.3 1730,1023.7 1750,1032 1770,1040.2 1790,1048.3 1780,-600 40,-600" fill="#fbd3b7"/>
<polygon points="30,238.8 50,239.7 70,241.2 90,243.1 110,245.4 130,248.1 150,251.6 170,256.2 190,261.6 210,267.8 230,274.6 250,282 270,289.8 290,297.9 310,306.2 330,314.7 350,323.2 370,331.6 390,339.7 410,347.6 430,355 450,362.2 470,369.4 490,376.6 510,383.9 530,391.2 550,398.6 570,406.1 590,413.7 610,421.4 630,429.2 650,437.2 670,445.3 690,453.4 710,461.6 730,469.8 750,477.8 770,485.8 790,493.4 810,500.5 830,507.4 850,514.7 870,522.7 890,531.7 910,542.3 930,555.5 950,570.9 970,587.6 990,605 1010,622.2 1030,638.5 1050,654.2 1070,670.6 1090,687.3 1110,704.1 1130,720.6 1150,736.6 1170,751.8 1190,765.8 1210,778.4 1230,789.2 1250,797.7 1270,804.7 1290,812.2 1310,822 1330,834.7 1350,848.6 1370,861.8 1390,872.7 1410,882.2 1430,891.1 1450,899.6 1470,908.3 1490,917.2 1510,926.1 1530,934.8 1550,943.4 1570,951.6 1590,959.4 1610,966.9 1630,974.6 1650,982.5 1670,990.9 1690,999.7 1710,1008.5 1730,1017.1 1750,1025.4 1770,1033.6 1790,1041.7 1780,-600 40,-600" fill="#fbceb4"/>
<polygon points="30,232 50,232.9 70,234.5 90,236.4 110,238.7 130,241.4 150,245 170,249.5 190,254.9 210,261 230,267.7 250,274.9 270,282.6 290,290.6 310,298.8 330,307.1 350,315.5 370,323.7 390,331.8 410,339.6 430,347 450,354.2 470,361.5 490,368.9 510,376.3 530,383.7 550,391.2 570,398.7 590,406.2 610,413.8 630,421.3 650,428.8 670,436.3 690,443.8 710,451.5 730,459.2 750,467 770,475 790,482.9 810,490.5 830,498.3 850,506.4 870,515.1 890,524.8 910,535.7 930,548.7 950,563.4 970,579.2 990,595.6 1010,611.9 1030,627.7 1050,643.2 1070,659.4 1090,676 1110,692.8 1130,709.5 1150,725.7 1170,741.1 1190,755.5 1210,768.6 1230,780 1250,789.2 1270,797.1 1290,805.3 1310,815.5 1330,828.1 1350,841.6 1370,854.4 1390,865.1 1410,874.4 1430,883 1450,891.4 1470,900 1490,908.8 1510,917.6 1530,926.4 1550,935 1570,943.3 1590,951.2 1610,959 1630,966.8 1650,975 1670,983.7 1690,992.7 1710,1001.7 1730,1010.4 1750,1018.8 1770,1027 1790,1035 1780,-600 40,-600" fill="#fbc9b0"/>
<polygon points="30,218.6 50,220 70,222 90,224.3 110,227.1 130,230.2 150,234.1 170,238.8 190,244.2 210,250.3 230,256.8 250,263.8 270,271.2 290,278.8 310,286.7 330,294.7 350,302.7 370,310.7 390,318.6 410,326.2 430,333.6 450,340.8 470,348.3 490,355.8 510,363.4 530,371.1 550,378.8 570,386.5 590,394.2 610,401.8 630,409.3 650,416.7 670,424 690,431.5 710,439 730,446.7 750,454.6 770,462.7 790,471 810,479.3 830,487.8 850,496.6 870,506 890,516.1 910,527.1 930,539.4 950,552.8 970,567 990,581.6 1010,596.3 1030,610.7 1050,625.1 1070,640.3 1090,655.8 1110,671.6 1130,687.3 1150,702.7 1170,717.5 1190,731.4 1210,744.2 1230,755.7 1250,765.3 1270,773.6 1290,782.2 1310,792.8 1330,805.8 1350,819.6 1370,832.6 1390,843.4 1410,852.8 1430,861.5 1450,870 1470,878.6 1490,887.3 1510,896 1530,904.7 1550,913.4 1570,922 1590,930.7 1610,939.4 1630,948.1 1650,957 1670,966.3 1690,975.8 1710,985.2 1730,994.1 1750,1002.7 1770,1010.8 1790,1018.7 1780,-600 40,-600" fill="#fac4ab"/>
<polygon points="30,205.1 50,207.1 70,209.5 90,212.3 110,215.4 130,219 150,223.2 170,228.1 190,233.5 210,239.5 230,245.9 250,252.6 270,259.7 290,267 310,274.6 330,282.2 350,289.9 370,297.7 390,305.3 410,312.8 430,320.1 450,327.5 470,335 490,342.8 510,350.6 530,358.5 550,366.5 570,374.3 590,382.1 610,389.8 630,397.2 650,404.6 670,411.8 690,419.1 710,426.6 730,434.2 750,442.1 770,450.4 790,459.1 810,468.1 830,477.4 850,487 870,497.1 890,507.5 910,518.4 930,529.9 950,542.1 970,554.7 990,567.6 1010,580.7 1030,593.8 1050,607.1 1070,621.1 1090,635.6 1110,650.4 1130,665.2 1150,679.8 1170,693.9 1190,707.4 1210,720 1230,731.4 1250,741.3 1270,750 1290,759.1 1310,770.1 1330,783.4 1350,797.6 1370,810.8 1390,821.8 1410,831.3 1430,840 1450,848.5 1470,857.1 1490,865.9 1510,874.4 1530,883 1550,891.8 1570,900.8 1590,910.2 1610,919.7 1630,929.3 1650,939 1670,948.8 1690,958.8 1710,968.6 1730,977.9 1750,986.5 1770,994.7 1790,1002.4 1780,-600 40,-600" fill="#fabfa7"/>
<polygon points="30,191.7 50,194.2 70,197 90,200.2 110,203.8 130,207.8 150,212.3 170,217.3 190,222.7 210,228.6 230,234.8 250,241.3 270,248.2 290,255.2 310,262.4 330,269.7 350,277.1 370,284.6 390,292 410,299.4 430,306.7 450,314.1 470,321.8 490,329.7 510,337.8 530,345.9 550,354.1 570,362.2 590,370.1 610,377.8 630,385.2 650,392.5 670,399.6 690,406.8 710,414.1 730,421.7 750,429.7 770,438.1 790,447.2 810,456.9 830,467.1 850,477.5 870,488.2 890,498.9 910,509.6 930,520.4 950,531.2 970,542.3 990,553.5 1010,565 1030,576.8 1050,589 1070,602 1090,615.5 1110,629.2 1130,643.1 1150,656.9 1170,670.4 1190,683.4 1210,695.7 1230,707.1 1250,717.2 1270,726.4 1290,736.1 1310,747.4 1330,761.1 1350,775.6 1370,789 1390,800.1 1410,809.7 1430,818.6 1450,827.1 1470,835.7 1490,844.4 1510,852.9 1530,861.4 1550,870.2 1570,879.5 1590,889.6 1610,900 1630,910.6 1650,921 1670,931.4 1690,941.9 1710,952.1 1730,961.6 1750,970.3 1770,978.5 1790,986.1 1780,-600 40,-600" fill="#fabaa3"/>
<polygon points="30,182 50,184.8 70,187.8 90,191.2 110,195 130,199.1 150,203.8 170,208.8 190,214.3 210,220.1 230,226.2 250,232.7 270,239.3 290,246.2 310,253.2 330,260.4 350,267.7 370,275 390,282.4 410,289.7 430,297 450,304.4 470,312.2 490,320.3 510,328.5 530,336.9 550,345.2 570,353.4 590,361.5 610,369.3 630,376.8 650,384.2 670,391.5 690,398.9 710,406.2 730,413.8 750,421.5 770,429.6 790,437.9 810,446.4 830,455.1 850,464 870,473.3 890,483 910,493.1 930,503.9 950,515.2 970,526.9 990,538.8 1010,551 1030,563.2 1050,575.6 1070,588.5 1090,601.8 1110,615.3 1130,628.9 1150,642.3 1170,655.5 1190,668.3 1210,680.5 1230,692 1250,702.2 1270,711.7 1290,721.5 1310,733.1 1330,747 1350,761.7 1370,775.3 1390,786.5 1410,796.1 1430,804.8 1450,813.3 1470,822 1490,830.8 1510,839.5 1530,848.3 1550,857.4 1570,866.9 1590,877.1 1610,887.7 1630,898.4 1650,908.6 1670,918.5 1690,928.3 1710,937.8 1730,946.8 1750,955.4 1770,963.6 1790,971.4 1780,-600 40,-600" fill="#f9b59e"/>
<polygon points="30,176 50,178.8 70,181.8 90,185.2 110,189 130,193.1 150,197.8 170,202.8 190,208.3 210,214.1 230,220.2 250,226.6 270,233.2 290,240.1 310,247.1 330,254.3 350,261.6 370,269 390,276.3 410,283.7 430,291 450,298.5 470,306.4 490,314.5 510,322.9 530,331.3 550,339.7 570,348.1 590,356.2 610,364.1 630,372.1 650,380 670,387.9 690,395.7 710,403.3 730,410.8 750,417.9 770,424.8 790,431 810,436.5 830,441.7 850,447.1 870,453.1 890,460 910,468.6 930,479.8 950,493.1 970,507.9 990,523.3 1010,538.5 1030,553 1050,566.6 1070,580.5 1090,594.4 1110,608.4 1130,622.3 1150,636 1170,649.3 1190,662.2 1210,674.4 1230,686 1250,696.3 1270,705.7 1290,715.5 1310,727.2 1330,741.2 1350,756 1370,769.7 1390,780.8 1410,790.3 1430,798.9 1450,807.2 1470,816 1490,825.2 1510,834.5 1530,843.8 1550,853.3 1570,862.9 1590,872.8 1610,882.8 1630,892.6 1650,901.8 1670,910.2 1690,918 1710,925.7 1730,933.6 1750,941.7 1770,949.9 1790,958.2 1780,-600 40,-600" fill="#f9af99"/>
<polygon points="30,170 50,172.8 70,175.8 90,179.2 110,183 130,187.1 150,191.8 170,196.8 190,202.2 210,208 230,214.1 250,220.5 270,227.2 290,234 310,241.1 330,248.2 350,255.5 370,262.9 390,270.3 410,277.6 430,285 450,292.6 470,300.5 490,308.8 510,317.2 530,325.8 550,334.3 570,342.8 590,351 610,359 630,367.5 650,376.2 670,384.9 690,393.4 710,401.4 730,408.7 750,415 770,420 790,423.7 810,426.5 830,428.8 850,431.1 870,433.9 890,437.6 910,443.4 930,454.4 950,469.7 970,487.8 990,507.1 1010,525.9 1030,542.7 1050,557.5 1070,572.3 1090,587 1110,601.5 1130,615.7 1150,629.6 1170,643.1 1190,656 1210,668.3 1230,680 1250,690.3 1270,699.7 1290,709.5 1310,721.2 1330,735.4 1350,750.3 1370,764.1 1390,775.2 1410,784.5 1430,792.9 1450,801.2 1470,810 1490,819.6 1510,829.4 1530,839.4 1550,849.3 1570,858.8 1590,868.4 1610,878 1630,887 1650,895 1670,901.8 1690,907.8 1710,913.7 1730,920.4 1750,928 1770,936.2 1790,945 1780,-600 40,-600" fill="#f9aa93"/>
<polygon points="30,161.3 50,164.1 70,167.1 90,170.5 110,174.2 130,178.4 150,182.9 170,187.7 190,193 210,198.5 230,204.3 250,210.4 270,216.7 290,223.2 310,229.9 330,236.8 350,243.8 370,250.9 390,258 410,265.3 430,272.5 450,280 470,288 490,296.4 510,305.1 530,313.8 550,322.6 570,331.2 590,339.7 610,347.9 630,356.5 650,365.4 670,374.3 690,383 710,391.2 730,398.6 750,404.9 770,410 790,413.7 810,416.5 830,418.8 850,421.1 870,423.9 890,427.6 910,433.4 930,444.2 950,459.4 970,477.3 990,496.3 1010,514.9 1030,531.5 1050,546.1 1070,560.7 1090,575.1 1110,589.4 1130,603.4 1150,617.1 1170,630.4 1190,643.3 1210,655.7 1230,667.5 1250,678.1 1270,687.9 1290,698.1 1310,710.1 1330,724.7 1350,740 1370,754 1390,765.2 1410,774.5 1430,782.9 1450,791.1 1470,800 1490,809.9 1510,820.3 1530,830.7 1550,840.7 1570,849.8 1590,858.3 1610,866.5 1630,874.1 1650,881.3 1670,887.5 1690,893.2 1710,898.9 1730,905.4 1750,912.8 1770,921.1 1790,930 1780,-600 40,-600" fill="#f9a48d"/>
<polygon points="30,152.5 50,155.3 70,158.4 90,161.8 110,165.5 130,169.6 150,174 170,178.7 190,183.7 210,189 230,194.5 250,200.3 270,206.3 290,212.5 310,218.8 330,225.4 350,232.1 370,238.9 390,245.9 410,252.9 430,260 450,267.5 470,275.5 490,284.1 510,292.9 530,301.8 550,310.8 570,319.7 590,328.3 610,336.7 630,345.5 650,354.6 670,363.7 690,372.5 710,380.9 730,388.4 750,394.9 770,400 790,403.7 810,406.5 830,408.8 850,411.1 870,413.9 890,417.6 910,423.3 930,434.1 950,449.1 970,466.7 990,485.5 1010,503.9 1030,520.3 1050,534.7 1070,549.1 1090,563.3 1110,577.3 1130,591.1 1150,604.6 1170,617.8 1190,630.6 1210,643 1230,655 1250,665.9 1270,676.1 1290,686.6 1310,699.1 1330,714 1350,729.6 1370,744 1390,755.3 1410,764.5 1430,772.9 1450,781.1 1470,790 1490,800.2 1510,811.2 1530,822.1 1550,832.2 1570,840.7 1590,848.1 1610,854.9 1630,861.3 1650,867.5 1670,873.3 1690,878.6 1710,884.1 1730,890.3 1750,897.7 1770,906 1790,915 1780,-600 40,-600" fill="#f89e87"/>
<polygon points="30,143.8 50,146.6 70,149.7 90,153.1 110,156.8 130,160.8 150,165.1 170,169.6 190,174.4 210,179.4 230,184.7 250,190.1 270,195.8 290,201.7 310,207.8 330,214 350,220.4 370,227 390,233.7 410,240.5 430,247.5 450,254.9 470,263 490,271.7 510,280.7 530,289.9 550,299.1 570,308.2 590,317 610,325.5 630,334.5 650,343.8 670,353.1 690,362.1 710,370.6 730,378.3 750,384.8 770,390 790,393.7 810,396.5 830,398.8 850,401.2 870,403.9 890,407.6 910,413.3 930,424 950,438.8 970,456.2 990,474.7 1010,492.8 1030,509.1 1050,523.3 1070,537.5 1090,551.4 1110,565.2 1130,578.8 1150,592.1 1170,605.2 1190,617.9 1210,630.4 1230,642.5 1250,653.7 1270,664.2 1290,675.2 1310,688 1330,703.3 1350,719.3 1370,733.9 1390,745.3 1410,754.6 1430,762.8 1450,771 1470,780 1490,790.6 1510,802.2 1530,813.6 1550,823.8 1570,831.6 1590,837.9 1610,843.3 1630,848.5 1650,853.8 1670,859 1690,864 1710,869.3 1730,875.3 1750,882.6 1770,890.9 1790,900 1780,-600 40,-600" fill="#f89981"/>
<polygon points="30,135 50,137.9 70,141.1 90,144.4 110,148.1 130,152 150,156.2 170,160.6 190,165.1 210,169.9 230,174.9 250,180.1 270,185.4 290,191 310,196.7 330,202.6 350,208.7 370,215 390,221.5 410,228.2 430,235 450,242.4 470,250.5 490,259.3 510,268.5 530,277.9 550,287.3 570,296.7 590,305.7 610,314.3 630,323.5 650,332.9 670,342.4 690,351.7 710,360.3 730,368.1 750,374.8 770,380 790,383.8 810,386.6 830,388.9 850,391.2 870,393.9 890,397.6 910,403.3 930,413.9 950,428.5 970,445.6 990,463.9 1010,481.8 1030,497.8 1050,511.9 1070,525.8 1090,539.6 1110,553.1 1130,566.5 1150,579.6 1170,592.6 1190,605.3 1210,617.8 1230,630 1250,641.5 1270,652.4 1290,663.8 1310,676.9 1330,692.6 1350,709 1370,723.8 1390,735.3 1410,744.6 1430,752.8 1450,761 1470,770 1490,781 1510,793.2 1530,805.3 1550,815.4 1570,822.4 1590,827.5 1610,831.7 1630,835.6 1650,840 1670,844.7 1690,849.4 1710,854.5 1730,860.3 1750,867.4 1770,875.8 1790,885 1780,-600 40,-600" fill="#f8937b"/>
<polygon points="30,124 50,126.7 70,129.6 90,132.7 110,136.2 130,139.9 150,143.9 170,148.1 190,152.6 210,157.3 230,162.1 250,167.2 270,172.5 290,178.1 310,183.8 330,189.7 350,195.8 370,202.1 390,208.5 410,215.2 430,222 450,229.4 470,237.6 490,246.5 510,255.9 530,265.4 550,275.1 570,284.5 590,293.6 610,302.3 630,311.3 650,320.5 670,329.7 690,338.7 710,347.2 730,355.1 750,362.1 770,368 790,372.6 810,376.3 830,379.5 850,382.7 870,386.4 890,391.1 910,397.7 930,408.2 950,422 970,437.7 990,454.4 1010,470.9 1030,485.9 1050,499.5 1070,512.9 1090,526.2 1110,539.4 1130,552.5 1150,565.4 1170,578.2 1190,591 1210,603.5 1230,616 1250,628 1270,639.6 1290,651.6 1310,664.9 1330,680.1 1350,695.8 1370,710 1390,721.3 1410,730.5 1430,738.8 1450,747 1470,756 1490,766.9 1510,779.1 1530,791.1 1550,801.3 1570,808.5 1590,813.8 1610,818.2 1630,822.4 1650,827 1670,831.9 1690,836.9 1710,842.2 1730,848.3 1750,855.5 1770,863.9 1790,873 1780,-600 40,-600" fill="#f88e76"/>
<polygon points="30,113 50,115.4 70,118.1 90,121 110,124.3 130,127.8 150,131.6 170,135.7 190,140 210,144.6 230,149.4 250,154.4 270,159.7 290,165.1 310,170.8 330,176.7 350,182.8 370,189.1 390,195.5 410,202.2 430,209 450,216.4 470,224.8 490,233.8 510,243.2 530,253 550,262.8 570,272.4 590,281.6 610,290.4 630,299.2 650,308.2 670,317.1 690,325.9 710,334.3 730,342.2 750,349.5 770,356 790,361.5 810,366 830,370.1 850,374.3 870,378.9 890,384.6 910,392 930,402.4 950,415.3 970,429.7 990,444.9 1010,459.9 1030,474 1050,487 1070,500 1090,512.9 1110,525.7 1130,538.5 1150,551.2 1170,564 1190,576.7 1210,589.3 1230,602 1250,614.5 1270,626.9 1290,639.5 1310,652.9 1330,667.6 1350,682.5 1370,696.1 1390,707.2 1410,716.4 1430,724.7 1450,732.9 1470,742 1490,752.9 1510,765 1530,777 1550,787.2 1570,794.6 1590,800.1 1610,804.7 1630,809.2 1650,814 1670,819.2 1690,824.4 1710,830 1730,836.3 1750,843.7 1770,852 1790,861 1780,-600 40,-600" fill="#f88871"/>
<polygon points="30,102 50,104.2 70,106.6 90,109.4 110,112.4 130,115.7 150,119.3 170,123.3 190,127.5 210,131.9 230,136.6 250,141.6 270,146.8 290,152.2 310,157.9 330,163.7 350,169.8 370,176.1 390,182.6 410,189.2 430,196 450,203.4 470,211.9 490,221 510,230.6 530,240.5 550,250.5 570,260.2 590,269.6 610,278.4 630,287.1 650,295.9 670,304.6 690,313.1 710,321.4 730,329.4 750,336.9 770,344 790,350.2 810,355.7 830,360.8 850,366 870,371.6 890,378.2 910,386.3 930,396.5 950,408.5 970,421.6 990,435.3 1010,449 1030,462.1 1050,474.6 1070,487 1090,499.5 1110,512 1130,524.5 1150,537.1 1170,549.7 1190,562.4 1210,575.1 1230,588 1250,601 1270,614.1 1290,627.4 1310,640.8 1330,655.1 1350,669.3 1370,682.3 1390,693.1 1410,702.3 1430,710.6 1450,718.9 1470,728 1490,738.9 1510,750.9 1530,762.8 1550,773.1 1570,780.7 1590,786.4 1610,791.3 1630,795.9 1650,801 1670,806.5 1690,812 1710,817.8 1730,824.3 1750,831.8 1770,840 1790,849 1780,-600 40,-600" fill="#f7826c"/>
<polygon points="30,91 50,92.9 70,95.2 90,97.7 110,100.5 130,103.6 150,107 170,110.8 190,114.9 210,119.2 230,123.8 250,128.7 270,133.9 290,139.3 310,144.9 330,150.8 350,156.8 370,163.1 390,169.6 410,176.2 430,183 450,190.5 470,199 490,208.2 510,218 530,228.1 550,238.2 570,248.1 590,257.5 610,266.4 630,275 650,283.6 670,292.1 690,300.5 710,308.7 730,316.7 750,324.5 770,332 790,339 810,345.4 830,351.6 850,357.8 870,364.5 890,371.9 910,380.4 930,390.4 950,401.5 970,413.3 990,425.6 1010,438 1030,450.2 1050,462.1 1070,474.1 1090,486.1 1110,498.3 1130,510.5 1150,522.9 1170,535.4 1190,548.1 1210,561 1230,574 1250,587.5 1270,601.4 1290,615.2 1310,628.8 1330,642.6 1350,656 1370,668.4 1390,679.1 1410,688.2 1430,696.5 1450,704.9 1470,714 1490,724.8 1510,736.8 1530,748.7 1550,759 1570,766.8 1590,772.7 1610,777.8 1630,782.7 1650,788 1670,793.7 1690,799.5 1710,805.7 1730,812.4 1750,819.9 1770,828.1 1790,837 1780,-600 40,-600" fill="#f77d67"/>
<polygon points="30,80 50,81.7 70,83.7 90,86 110,88.6 130,91.5 150,94.7 170,98.3 190,102.3 210,106.5 230,111.1 250,115.9 270,121 290,126.4 310,132 330,137.8 350,143.9 370,150.1 390,156.6 410,163.2 430,170 450,177.5 470,186.1 490,195.5 510,205.4 530,215.7 550,225.9 570,236 590,245.5 610,254.4 630,263 650,271.4 670,279.7 690,287.9 710,296 730,304.1 750,312 770,320 790,327.7 810,335.1 830,342.4 850,349.8 870,357.5 890,365.7 910,374.5 930,384.1 950,394.3 970,404.9 990,415.9 1010,427.1 1030,438.3 1050,449.6 1070,461.1 1090,472.7 1110,484.5 1130,496.5 1150,508.8 1170,521.2 1190,533.9 1210,546.8 1230,560 1250,574 1270,588.7 1290,603.1 1310,616.7 1330,630 1350,642.8 1370,654.6 1390,665 1410,674.1 1430,682.4 1450,690.8 1470,700 1490,710.8 1510,722.7 1530,734.5 1550,745 1570,752.8 1590,759 1610,764.3 1630,769.4 1650,775 1670,781 1690,787.1 1710,793.5 1730,800.4 1750,808 1770,816.2 1790,825 1780,-600 40,-600" fill="#f77761"/>
<polygon points="30,70 50,71.7 70,73.7 90,76 110,78.6 130,81.5 150,84.7 170,88.3 190,92.3 210,96.5 230,101.1 250,105.9 270,111 290,116.4 310,122 330,127.8 350,133.9 370,140.1 390,146.6 410,153.2 430,160 450,167.5 470,176.1 490,185.5 510,195.4 530,205.7 550,215.9 570,226 590,235.5 610,244.4 630,252.9 650,261.3 670,269.6 690,277.7 710,285.8 730,293.9 750,301.9 770,310 790,318 810,325.7 830,333.4 850,341.1 870,349.2 890,357.6 910,366.6 930,376 950,385.9 970,396.1 990,406.7 1010,417.4 1030,428.4 1050,439.4 1070,450.6 1090,462 1110,473.6 1130,485.4 1150,497.4 1170,509.6 1190,522.1 1210,534.9 1230,548 1250,561.9 1270,576.6 1290,591.1 1310,604.7 1330,618 1350,630.8 1370,642.6 1390,653 1410,662.1 1430,670.5 1450,678.9 1470,688 1490,698.4 1510,709.9 1530,721.1 1550,731.1 1570,738.8 1590,744.9 1610,750.3 1630,755.4 1650,761 1670,767 1690,773.1 1710,779.5 1730,786.4 1750,794 1770,802.2 1790,811 1780,-600 40,-600" fill="#f7725c"/>
<polygon points="30,60 50,61.7 70,63.7 90,66 110,68.6 130,71.5 150,74.7 170,78.3 190,82.3 210,86.5 230,91.1 250,95.9 270,101 290,106.4 310,112 330,117.8 350,123.9 370,130.1 390,136.6 410,143.2 430,150 450,157.5 470,166.1 490,175.5 510,185.4 530,195.7 550,205.9 570,216 590,225.5 610,234.4 630,242.9 650,251.3 670,259.5 690,267.6 710,275.6 730,283.7 750,291.8 770,300 790,308.2 810,316.3 830,324.3 850,332.5 870,340.9 890,349.5 910,358.6 930,367.9 950,377.5 970,387.4 990,397.5 1010,407.8 1030,418.4 1050,429.2 1070,440.1 1090,451.3 1110,462.6 1130,474.2 1150,486 1170,498.1 1190,510.4 1210,523 1230,536 1250,549.9 1270,564.6 1290,579.1 1310,592.7 1330,606 1350,618.8 1370,630.6 1390,641 1410,650.2 1430,658.7 1450,667.1 1470,676 1490,686.1 1510,697 1530,707.7 1550,717.2 1570,724.8 1590,730.9 1610,736.2 1630,741.4 1650,747 1670,753 1690,759.1 1710,765.5 1730,772.4 1750,780 1770,788.2 1790,797 1780,-600 40,-600" fill="#f76d57"/>
<polygon points="30,50 50,51.7 70,53.7 90,56 110,58.6 130,61.5 150,64.7 170,68.3 190,72.3 210,76.5 230,81.1 250,85.9 270,91 290,96.4 310,102 330,107.8 350,113.9 370,120.1 390,126.6 410,133.2 430,140 450,147.5 470,156.1 490,165.5 510,175.4 530,185.7 550,195.9 570,206 590,215.5 610,224.4 630,232.9 650,241.2 670,249.3 690,257.4 710,265.4 730,273.5 750,281.7 770,290 790,298.4 810,306.9 830,315.3 850,323.9 870,332.6 890,341.5 910,350.6 930,359.7 950,369.1 970,378.5 990,388.2 1010,398.2 1030,408.4 1050,418.9 1070,429.6 1090,440.5 1110,451.6 1130,463 1150,474.6 1170,486.5 1190,498.7 1210,511.2 1230,524 1250,537.8 1270,552.6 1290,567.1 1310,580.7 1330,594 1350,606.8 1370,618.6 1390,629 1410,638.2 1430,646.8 1450,655.2 1470,664 1490,673.8 1510,684.1 1530,694.2 1550,703.3 1570,710.7 1590,716.8 1610,722.2 1630,727.4 1650,733 1670,739 1690,745.1 1710,751.5 1730,758.4 1750,766 1770,774.2 1790,783 1780,-600 40,-600" fill="#f66852"/>
<polygon points="30,40 50,41.7 70,43.7 90,46 110,48.6 130,51.5 150,54.7 170,58.3 190,62.3 210,66.5 230,71.1 250,75.9 270,81 290,86.4 310,92 330,97.8 350,103.9 370,110.1 390,116.6 410,123.2 430,130 450,137.5 470,146.1 490,155.5 510,165.4 530,175.7 550,185.9 570,196 590,205.5 610,214.4 630,222.8 650,231.1 670,239.2 690,247.2 710,255.2 730,263.3 750,271.6 770,280 790,288.7 810,297.4 830,306.3 850,315.3 870,324.4 890,333.4 910,342.5 930,351.6 950,360.6 970,369.7 990,379 1010,388.6 1030,398.5 1050,408.7 1070,419.2 1090,429.8 1110,440.7 1130,451.8 1150,463.2 1170,474.9 1190,486.9 1210,499.3 1230,512 1250,525.8 1270,540.5 1290,555.1 1310,568.7 1330,582 1350,594.8 1370,606.6 1390,617 1410,626.3 1430,634.9 1450,643.3 1470,652 1490,661.4 1510,671.2 1530,680.8 1550,689.5 1570,696.7 1590,702.7 1610,708.1 1630,713.4 1650,719 1670,725 1690,731.1 1710,737.5 1730,744.4 1750,752 1770,760.2 1790,769 1780,-600 40,-600" fill="#f6634d"/>
<polygon points="30,30 50,31.7 70,33.7 90,36 110,38.6 130,41.5 150,44.7 170,48.3 190,52.3 210,56.5 230,61.1 250,65.9 270,71 290,76.4 310,82 330,87.8 350,93.9 370,100.1 390,106.6 410,113.2 430,120 450,127.5 470,136.1 490,145.5 510,155.4 530,165.7 550,175.9 570,186 590,195.5 610,204.3 630,212.8 650,221 670,229.1 690,237.1 710,245.1 730,253.2 750,261.4 770,270 790,278.9 810,288 830,297.3 850,306.7 870,316.1 890,325.4 910,334.5 930,343.4 950,352.1 970,360.9 990,369.8 1010,378.9 1030,388.5 1050,398.5 1070,408.7 1090,419.1 1110,429.7 1130,440.6 1150,451.8 1170,463.4 1190,475.2 1210,487.4 1230,500 1250,513.7 1270,528.5 1290,543.1 1310,556.7 1330,570 1350,582.8 1370,594.6 1390,605.1 1410,614.4 1430,623 1450,631.4 1470,640 1490,649.1 1510,658.4 1530,667.4 1550,675.6 1570,682.7 1590,688.6 1610,694 1630,699.3 1650,705 1670,711 1690,717.1 1710,723.5 1730,730.4 1750,738 1770,746.2 1790,755 1780,-600 40,-600" fill="#f65d47"/>
<polygon points="30,18.6 50,20.3 70,22.2 90,24.5 110,27.2 130,30.1 150,33.4 170,37 190,41.1 210,45.4 230,50.1 250,55.1 270,60.4 290,65.9 310,71.7 330,77.7 350,84 370,90.4 390,97 410,103.8 430,110.7 450,118.3 470,127.1 490,136.6 510,146.7 530,157 550,167.4 570,177.4 590,187 610,195.7 630,204.1 650,212.2 670,220.2 690,228 710,235.8 730,243.7 750,251.7 770,260 790,268.5 810,277.1 830,285.9 850,294.7 870,303.7 890,312.6 910,321.6 930,330.6 950,339.5 970,348.5 990,357.7 1010,367.2 1030,377.1 1050,387.2 1070,397.6 1090,408.2 1110,419 1130,430 1150,441.4 1170,453 1190,465 1210,477.3 1230,490 1250,503.8 1270,518.5 1290,533.1 1310,546.7 1330,560 1350,572.8 1370,584.6 1390,595.1 1410,604.4 1430,613.1 1450,621.5 1470,630 1490,638.8 1510,647.8 1530,656.4 1550,664.3 1570,671.1 1590,676.9 1610,682.2 1630,687.4 1650,692.9 1670,698.7 1690,704.6 1710,710.8 1730,717.5 1750,724.9 1770,732.9 1790,741.4 1780,-600 40,-600" fill="#f65742"/>
<polygon points="30,7.1 50,8.8 70,10.8 90,13.1 110,15.7 130,18.7 150,22 170,25.8 190,29.9 210,34.4 230,39.2 250,44.3 270,49.7 290,55.5 310,61.4 330,67.6 350,74 370,80.6 390,87.4 410,94.4 430,101.4 450,109.2 470,118.1 490,127.7 510,137.9 530,148.4 550,158.8 570,168.9 590,178.4 610,187.1 630,195.4 650,203.4 670,211.2 690,218.9 710,226.5 730,234.2 750,242 770,250 790,258.1 810,266.3 830,274.5 850,282.8 870,291.2 890,299.9 910,308.7 930,317.7 950,326.9 970,336.2 990,345.7 1010,355.5 1030,365.6 1050,376 1070,386.5 1090,397.3 1110,408.2 1130,419.5 1150,431 1170,442.7 1190,454.8 1210,467.2 1230,480 1250,493.8 1270,508.5 1290,523.1 1310,536.7 1330,550 1350,562.8 1370,574.6 1390,585.1 1410,594.5 1430,603.2 1450,611.6 1470,620 1490,628.6 1510,637.2 1530,645.5 1550,653.1 1570,659.6 1590,665.3 1610,670.4 1630,675.4 1650,680.7 1670,686.4 1690,692.1 1710,698.1 1730,704.6 1750,711.8 1770,719.6 1790,727.9 1780,-600 40,-600" fill="#f6513d"/>
<polygon points="30,-4.3 50,-2.6 70,-0.7 90,1.6 110,4.3 130,7.2 150,10.6 170,14.5 190,18.7 210,23.3 230,28.2 250,33.5 270,39.1 290,45 310,51.1 330,57.5 350,64.1 370,70.9 390,77.8 410,84.9 430,92.1 450,100 470,109 490,118.9 510,129.2 530,139.7 550,150.2 570,160.4 590,169.9 610,178.5 630,186.7 650,194.6 670,202.3 690,209.8 710,217.3 730,224.7 750,232.3 770,240 790,247.7 810,255.4 830,263.1 850,270.9 870,278.8 890,287.1 910,295.8 930,304.8 950,314.2 970,323.8 990,333.7 1010,343.8 1030,354.1 1050,364.7 1070,375.4 1090,386.3 1110,397.5 1130,408.9 1150,420.5 1170,432.4 1190,444.6 1210,457.2 1230,470 1250,483.8 1270,498.6 1290,513.1 1310,526.7 1330,540 1350,552.8 1370,564.6 1390,575.1 1410,584.6 1430,593.3 1450,601.7 1470,610 1490,618.3 1510,626.6 1530,634.5 1550,641.8 1570,648.1 1590,653.6 1610,658.5 1630,663.4 1650,668.6 1670,674 1690,679.6 1710,685.5 1730,691.8 1750,698.7 1770,706.3 1790,714.3 1780,-600 40,-600" fill="#f64b38"/>
<polygon points="30,-15.7 50,-14.1 70,-12.1 90,-9.8 110,-7.2 130,-4.2 150,-0.7 170,3.2 190,7.5 210,12.2 230,17.3 250,22.7 270,28.5 290,34.6 310,40.9 330,47.4 350,54.2 370,61.2 390,68.3 410,75.5 430,82.9 450,90.9 470,100 490,110 510,120.4 530,131.1 550,141.7 570,151.8 590,161.3 610,169.9 630,178 650,185.8 670,193.4 690,200.8 710,208 730,215.3 750,222.6 770,230 790,237.4 810,244.5 830,251.7 850,258.9 870,266.5 890,274.4 910,282.9 930,291.9 950,301.5 970,311.4 990,321.6 1010,332.1 1030,342.7 1050,353.4 1070,364.3 1090,375.4 1110,386.7 1130,398.3 1150,410.1 1170,422.1 1190,434.4 1210,447.1 1230,460 1250,473.9 1270,488.6 1290,503.1 1310,516.7 1330,530 1350,542.8 1370,554.6 1390,565.1 1410,574.6 1430,583.5 1450,591.8 1470,600 1490,608.1 1510,616 1530,623.6 1550,630.5 1570,636.6 1590,641.9 1610,646.7 1630,651.4 1650,656.4 1670,661.7 1690,667.1 1710,672.8 1730,678.9 1750,685.6 1770,692.9 1790,700.7 1780,-600 40,-600" fill="#f64533"/>
<polygon points="30,-27.1 50,-25.5 70,-23.6 90,-21.3 110,-18.6 130,-15.6 150,-12.1 170,-8.1 190,-3.7 210,1.1 230,6.4 250,12 270,17.9 290,24.1 310,30.6 330,37.3 350,44.3 370,51.4 390,58.7 410,66.1 430,73.6 450,81.8 470,91 490,101.1 510,111.7 530,122.5 550,133.1 570,143.3 590,152.8 610,161.3 630,169.3 650,177 670,184.5 690,191.7 710,198.8 730,205.8 750,212.9 770,220 790,227 810,233.7 830,240.3 850,247 870,254.1 890,261.7 910,270 930,279 950,288.7 970,299 990,309.5 1010,320.3 1030,331.2 1050,342.2 1070,353.2 1090,364.5 1110,376 1130,387.7 1150,399.6 1170,411.8 1190,424.3 1210,437 1230,450 1250,463.9 1270,478.6 1290,493.1 1310,506.7 1330,520 1350,532.8 1370,544.6 1390,555.1 1410,564.7 1430,573.6 1450,582 1470,590 1490,597.9 1510,605.5 1530,612.6 1550,619.2 1570,625.1 1590,630.2 1610,634.8 1630,639.4 1650,644.3 1670,649.4 1690,654.6 1710,660.1 1730,666 1750,672.5 1770,679.6 1790,687.1 1780,-600 40,-600" fill="#f6402f"/>
<polygon points="30,-38.6 50,-37 70,-35 90,-32.7 110,-30 130,-27 150,-23.5 170,-19.4 190,-14.9 210,-10 230,-4.6 250,1.2 270,7.3 290,13.7 310,20.3 330,27.2 350,34.4 370,41.7 390,49.1 410,56.7 430,64.3 450,72.6 470,82 490,92.3 510,103 530,113.8 550,124.5 570,134.8 590,144.2 610,152.7 630,160.6 650,168.2 670,175.5 690,182.6 710,189.5 730,196.4 750,203.2 770,210 790,216.6 810,222.8 830,229 850,235.2 870,241.8 890,249 910,257 930,266.1 950,276 970,286.5 990,297.5 1010,308.6 1030,319.8 1050,330.9 1070,342.2 1090,353.6 1110,365.3 1130,377.1 1150,389.2 1170,401.5 1190,414.1 1210,426.9 1230,440 1250,453.9 1270,468.6 1290,483.1 1310,496.7 1330,510 1350,522.8 1370,534.6 1390,545.1 1410,554.7 1430,563.7 1450,572.1 1470,580 1490,587.6 1510,594.9 1530,601.7 1550,608 1570,613.6 1590,618.5 1610,623 1630,627.4 1650,632.1 1670,637.1 1690,642.1 1710,647.4 1730,653.2 1750,659.4 1770,666.3 1790,673.6 1780,-600 40,-600" fill="#f63b2c"/>
<polygon points="30,-50 50,-48.4 70,-46.5 90,-44.1 110,-41.5 130,-38.4 150,-34.8 170,-30.7 190,-26.1 210,-21 230,-15.5 250,-9.6 270,-3.4 290,3.2 310,10.1 330,17.1 350,24.5 370,31.9 390,39.5 410,47.2 430,55 450,63.5 470,73 490,83.4 510,94.2 530,105.2 550,116 570,126.3 590,135.7 610,144.1 630,151.9 650,159.4 670,166.6 690,173.5 710,180.3 730,186.9 750,193.5 770,200 790,206.2 810,212 830,217.6 850,223.3 870,229.5 890,236.3 910,244.1 930,253.1 950,263.2 970,274 990,285.4 1010,296.9 1030,308.3 1050,319.6 1070,331.1 1090,342.7 1110,354.5 1130,366.5 1150,378.8 1170,391.2 1190,403.9 1210,416.8 1230,430 1250,444 1270,458.7 1290,473.1 1310,486.7 1330,500 1350,512.8 1370,524.6 1390,535.1 1410,544.8 1430,553.8 1450,562.2 1470,570 1490,577.3 1510,584.3 1530,590.7 1550,596.7 1570,602.1 1590,606.8 1610,611.2 1630,615.4 1650,620 1670,624.8 1690,629.7 1710,634.8 1730,640.3 1750,646.4 1770,653 1790,660 1780,-600 40,-600" fill="#f63629"/>
<polygon points="30,-70 50,-68.5 70,-66.6 90,-64.2 110,-61.5 130,-58.4 150,-54.6 170,-50.2 190,-45.1 210,-39.5 230,-33.4 250,-26.8 270,-19.9 290,-12.6 310,-5 330,2.8 350,10.8 370,18.9 390,27 410,35.2 430,43.3 450,51.9 470,61.4 490,71.5 510,82 530,92.5 550,102.9 570,112.9 590,122.3 610,130.9 630,139 650,146.9 670,154.6 690,162 710,169.3 730,176.3 750,183.2 770,190 790,196.3 810,202.2 830,207.8 850,213.4 870,219.5 890,226.3 910,234.1 930,243.1 950,253.2 970,264 990,275.4 1010,286.9 1030,298.3 1050,309.6 1070,321.2 1090,333 1110,345 1130,357.1 1150,369.5 1170,381.9 1190,394.5 1210,407.2 1230,420 1250,433.2 1270,446.7 1290,460.1 1310,473.2 1330,486.4 1350,499.3 1370,511.2 1390,521.8 1410,531.5 1430,540.5 1450,548.9 1470,556.7 1490,564 1510,570.9 1530,577.4 1550,583.4 1570,588.7 1590,593.5 1610,597.8 1630,602.1 1650,606.7 1670,611.5 1690,616.3 1710,621.4 1730,627 1750,633 1770,639.6 1790,646.7 1780,-600 40,-600" fill="#f63126"/>
<polygon points="30,-90 50,-88.6 70,-86.7 90,-84.3 110,-81.5 130,-78.3 150,-74.4 170,-69.6 190,-64.1 210,-58 230,-51.2 250,-44 270,-36.3 290,-28.3 310,-20 330,-11.5 350,-2.8 370,5.9 390,14.6 410,23.2 430,31.7 450,40.4 470,49.8 490,59.6 510,69.7 530,79.8 550,89.9 570,99.6 590,108.9 610,117.6 630,126.1 650,134.4 670,142.6 690,150.5 710,158.2 730,165.7 750,173 770,180 790,186.5 810,192.3 830,197.9 850,203.5 870,209.5 890,216.3 910,224.1 930,233.1 950,243.2 970,254 990,265.4 1010,276.9 1030,288.3 1050,299.7 1070,311.4 1090,323.3 1110,335.5 1130,347.8 1150,360.2 1170,372.7 1190,385.2 1210,397.6 1230,410 1250,422.3 1270,434.7 1290,447.1 1310,459.7 1330,472.8 1350,485.8 1370,497.9 1390,508.5 1410,518.1 1430,527.2 1450,535.5 1470,543.3 1490,550.7 1510,557.6 1530,564.1 1550,570 1570,575.4 1590,580.1 1610,584.5 1630,588.8 1650,593.3 1670,598.1 1690,603 1710,608.1 1730,613.6 1750,619.7 1770,626.3 1790,633.3 1780,-600 40,-600" fill="#f62c23"/>
</g>
<g clip-path="url(#redclip)"><rect x="72" y="14" width="1657" height="1000" filter="url(#wisp)" opacity="0.5"/></g>
<g filter="url(#fblur6)"><line x1="1568" y1="14" x2="1735" y2="84" stroke="#f87458" stroke-width="9" opacity="0.9"/></g>
<g filter="url(#fblur16)">
<path d="M1480,1190 C1475.3,1209.2 1462,1267.5 1452,1305 C1442,1342.5 1430.7,1380.7 1420,1415 C1409.3,1449.3 1398.7,1481.7 1388,1511 C1377.3,1540.3 1364.3,1565.2 1356,1591 C1347.7,1616.8 1341.7,1646.2 1338,1666 C1334.3,1685.8 1334.7,1702.7 1334,1710" fill="none" stroke="#5e95cc" stroke-width="34" stroke-linecap="round" opacity="0.75"/>
</g>
<g filter="url(#fblur8)">
<polygon points="1425,1122 1380,1150 1345,1200 1329,1224 1316,1303 1284,1383 1255,1463 1230,1543 1207,1623 1195,1700 1316,1700 1316,1666 1335,1591 1367,1511 1399,1415 1431,1303 1460,1195 1450,1140" fill="#cfdcd6" opacity="0.9"/>
<path d="M1300,1420 C1296.7,1430 1287,1460 1280,1480 C1273,1500 1264.7,1520 1258,1540 C1251.3,1560 1244.7,1579 1240,1600 C1235.3,1621 1231.7,1655 1230,1666" fill="none" stroke="#e4eac8" stroke-width="28" stroke-linecap="round" opacity="0.85"/>
<ellipse cx="1402" cy="1152" rx="32" ry="20" fill="#e8ecd0" opacity="0.9" transform="rotate(-30 1402 1152)"/>
<path d="M1420,1200 C1415.8,1213.3 1403.3,1255 1395,1280 C1386.7,1305 1379.2,1326.7 1370,1350 C1360.8,1373.3 1345,1408.3 1340,1420" fill="none" stroke="#dde6cc" stroke-width="22" stroke-linecap="round" opacity="0.7"/>
</g>
<g filter="url(#fblur6)" fill="#c4dcee" opacity="0.5">
<ellipse cx="412" cy="938" rx="26" ry="9" transform="rotate(15 412 938)"/>
<ellipse cx="580" cy="1008" rx="26" ry="14" transform="rotate(20 580 1008)"/>
<ellipse cx="646" cy="1064" rx="10" ry="12" transform="rotate(0 646 1064)"/>
<ellipse cx="712" cy="1062" rx="34" ry="16" transform="rotate(18 712 1062)"/>
<ellipse cx="820" cy="1140" rx="46" ry="24" transform="rotate(22 820 1140)"/>
<ellipse cx="940" cy="1195" rx="46" ry="18" transform="rotate(22 940 1195)"/>
<ellipse cx="470" cy="958" rx="16" ry="7" transform="rotate(20 470 958)"/>
<ellipse cx="760" cy="1080" rx="18" ry="12" transform="rotate(10 760 1080)"/>
</g>
<polygon points="72,784 285,900 500,1017 900,1212 1050,1282 1269,1381.5 1162,1666 60,1680 60,784" fill="url(#landg)"/>
<polygon points="72,784 285,900 500,1017 900,1212 1050,1282 1269,1381.5 1162,1666 60,1680 60,784" fill="url(#landr)"/>
<polyline points="1266,1385 1258,1404 1252,1424 1240,1447 1234,1468 1224,1488 1216,1510 1206,1534 1198,1560 1190,1584 1182,1606 1174,1630 1168,1648 1162,1666" fill="none" stroke="#4a4030" stroke-width="4" stroke-linejoin="round" stroke-dasharray="40 4 26 7 34 3" opacity="0.75"/>
<path d="M60,178 C62,178.8 59.6,178.5 72,182.6 C84.4,186.7 110.4,194.6 134.3,202.7 C158.2,210.8 186.2,221 215.7,231.4 C245.2,241.8 279.6,254.2 311.5,265 C343.4,275.8 375.3,285.2 407.2,296 C439.1,306.8 471.1,317.6 503,329.6 C534.9,341.6 574.3,358.9 598.8,368 C623.3,377.1 625.5,374.3 650,384.5 C674.5,394.7 713.9,414 745.8,429 C777.7,444 817.6,463.3 841.6,474.5 C865.6,485.7 873.5,488.8 889.5,496 C905.5,503.2 913.5,505.2 937.4,517.6 C961.3,530 1009.3,557.3 1033.1,570.3 C1056.9,583.3 1066.3,587.9 1080,595.8 C1093.7,603.7 1103.4,610.8 1115.1,617.8 C1126.8,624.8 1138.5,630.7 1150.2,637.9 C1161.9,645.1 1173.7,653.5 1185.4,660.8 C1197.1,668.1 1208.8,674.2 1220.5,681.8 C1232.2,689.4 1242.3,697.6 1255.6,706.4 C1268.8,715.2 1281.7,723.5 1300,734.5 C1318.3,745.5 1342.6,760.5 1365.5,772.4 C1388.4,784.3 1409.5,793.2 1437.4,806 C1465.3,818.8 1501.2,833 1533.1,849 C1565,865 1596.3,884.4 1629,901.7 C1661.7,919 1709.7,943.1 1729,953 C1748.3,962.9 1742.3,959.7 1745,961" fill="none" stroke="#1a1a1a" stroke-width="7" stroke-linejoin="round"/>
<path d="M60,178 C62,178.8 59.6,178.5 72,182.6 C84.4,186.7 110.4,194.6 134.3,202.7 C158.2,210.8 186.2,221 215.7,231.4 C245.2,241.8 279.6,254.2 311.5,265 C343.4,275.8 375.3,285.2 407.2,296 C439.1,306.8 471.1,317.6 503,329.6 C534.9,341.6 574.3,358.9 598.8,368 C623.3,377.1 625.5,374.3 650,384.5 C674.5,394.7 713.9,414 745.8,429 C777.7,444 817.6,463.3 841.6,474.5 C865.6,485.7 873.5,488.8 889.5,496 C905.5,503.2 913.5,505.2 937.4,517.6 C961.3,530 1009.3,557.3 1033.1,570.3 C1056.9,583.3 1066.3,587.9 1080,595.8 C1093.7,603.7 1103.4,610.8 1115.1,617.8 C1126.8,624.8 1138.5,630.7 1150.2,637.9 C1161.9,645.1 1173.7,653.5 1185.4,660.8 C1197.1,668.1 1208.8,674.2 1220.5,681.8 C1232.2,689.4 1242.3,697.6 1255.6,706.4 C1268.8,715.2 1281.7,723.5 1300,734.5 C1318.3,745.5 1342.6,760.5 1365.5,772.4 C1388.4,784.3 1409.5,793.2 1437.4,806 C1465.3,818.8 1501.2,833 1533.1,849 C1565,865 1596.3,884.4 1629,901.7 C1661.7,919 1709.7,943.1 1729,953 C1748.3,962.9 1742.3,959.7 1745,961" fill="none" stroke="#ffff00" stroke-width="4.6" stroke-linejoin="round"/>
</g>
<text x="1604" y="113.6" font-family="'Liberation Sans', Arial, sans-serif" font-size="86" fill="#fff" stroke="#fff" stroke-width="1" text-anchor="middle">N</text>
<polygon points="1603,130.6 1544.4,328.5 1603,259.8" fill="#fff"/>
<path d="M1603,130.6 L1662.5,328.5 L1603,259.8 Z M1604.2,150 L1653.3,311.8 L1604.2,255.5 Z" fill="#fff" fill-rule="evenodd"/>
<circle cx="1398.1" cy="723.6" r="10.1" fill="#ffff80" stroke="#000" stroke-width="2.1"/>
<text x="1409.1" y="735.1" font-family="'Liberation Serif', 'Times New Roman', serif" font-weight="bold" font-size="33.5" fill="#000">1</text>
<circle cx="1356.9" cy="788.2" r="10.1" fill="#ffff80" stroke="#000" stroke-width="2.1"/>
<text x="1367.9" y="799.7" font-family="'Liberation Serif', 'Times New Roman', serif" font-weight="bold" font-size="33.5" fill="#000">2</text>
<circle cx="1320.5" cy="885.9" r="10.1" fill="#fca624" stroke="#000" stroke-width="2.1"/>
<text x="1331.5" y="897.4" font-family="'Liberation Serif', 'Times New Roman', serif" font-weight="bold" font-size="33.5" fill="#000">3</text>
<circle cx="1298" cy="927.5" r="10.1" fill="#fca624" stroke="#000" stroke-width="2.1"/>
<text x="1309" y="939" font-family="'Liberation Serif', 'Times New Roman', serif" font-weight="bold" font-size="33.5" fill="#000">4</text>
<circle cx="1257.4" cy="996.3" r="10.1" fill="#fdd35c" stroke="#000" stroke-width="2.1"/>
<text x="1268.4" y="1007.8" font-family="'Liberation Serif', 'Times New Roman', serif" font-weight="bold" font-size="33.5" fill="#000">5</text>
<circle cx="1225.5" cy="1053.3" r="10.1" fill="#fca624" stroke="#000" stroke-width="2.1"/>
<text x="1236.5" y="1064.8" font-family="'Liberation Serif', 'Times New Roman', serif" font-weight="bold" font-size="33.5" fill="#000">6</text>
<circle cx="1191.3" cy="1106.6" r="10.1" fill="#fca624" stroke="#000" stroke-width="2.1"/>
<text x="1202.3" y="1118.1" font-family="'Liberation Serif', 'Times New Roman', serif" font-weight="bold" font-size="33.5" fill="#000">7</text>
<circle cx="1169.6" cy="1152.6" r="10.1" fill="#c95b0b" stroke="#000" stroke-width="2.1"/>
<text x="1180.6" y="1164.1" font-family="'Liberation Serif', 'Times New Roman', serif" font-weight="bold" font-size="33.5" fill="#000">8</text>
<circle cx="1128.1" cy="1204.6" r="10.1" fill="#c95b0b" stroke="#000" stroke-width="2.1"/>
<text x="1139.1" y="1216.1" font-family="'Liberation Serif', 'Times New Roman', serif" font-weight="bold" font-size="33.5" fill="#000">9</text>
<circle cx="1100" cy="1259.5" r="10.1" fill="#c95b0b" stroke="#000" stroke-width="2.1"/>
<text x="1111" y="1271" font-family="'Liberation Serif', 'Times New Roman', serif" font-weight="bold" font-size="33.5" fill="#000">10</text>
<circle cx="989.9" cy="1122.9" r="10.1" fill="#fca624" stroke="#000" stroke-width="2.1"/>
<text x="1000.9" y="1134.4" font-family="'Liberation Serif', 'Times New Roman', serif" font-weight="bold" font-size="33.5" fill="#000">11</text>
<circle cx="1051.5" cy="1023.3" r="10.1" fill="#fca624" stroke="#000" stroke-width="2.1"/>
<text x="1062.5" y="1034.8" font-family="'Liberation Serif', 'Times New Roman', serif" font-weight="bold" font-size="33.5" fill="#000">12</text>
<circle cx="1080.7" cy="948.1" r="10.1" fill="#fca624" stroke="#000" stroke-width="2.1"/>
<text x="1091.7" y="959.6" font-family="'Liberation Serif', 'Times New Roman', serif" font-weight="bold" font-size="33.5" fill="#000">13</text>
<circle cx="1111.4" cy="885.3" r="10.1" fill="#fca624" stroke="#000" stroke-width="2.1"/>
<text x="1122.4" y="896.8" font-family="'Liberation Serif', 'Times New Roman', serif" font-weight="bold" font-size="33.5" fill="#000">14</text>
<circle cx="1167.1" cy="789.6" r="10.1" fill="#fca624" stroke="#000" stroke-width="2.1"/>
<text x="1178.1" y="801.1" font-family="'Liberation Serif', 'Times New Roman', serif" font-weight="bold" font-size="33.5" fill="#000">15</text>
<circle cx="1209.2" cy="716.6" r="10.1" fill="#fdd35c" stroke="#000" stroke-width="2.1"/>
<text x="1220.2" y="728.1" font-family="'Liberation Serif', 'Times New Roman', serif" font-weight="bold" font-size="33.5" fill="#000">16</text>
<circle cx="1220.4" cy="681.4" r="10.1" fill="#ffff80" stroke="#000" stroke-width="2.1"/>
<text x="1231.4" y="692.9" font-family="'Liberation Serif', 'Times New Roman', serif" font-weight="bold" font-size="33.5" fill="#000">17</text>
<circle cx="1246.3" cy="646" r="10.1" fill="#ffff80" stroke="#000" stroke-width="2.1"/>
<text x="1257.3" y="657.5" font-family="'Liberation Serif', 'Times New Roman', serif" font-weight="bold" font-size="33.5" fill="#000">18</text>
<circle cx="1086.8" cy="558.3" r="10.1" fill="#ffff80" stroke="#000" stroke-width="2.1"/>
<text x="1097.8" y="569.8" font-family="'Liberation Serif', 'Times New Roman', serif" font-weight="bold" font-size="33.5" fill="#000">19</text>
<circle cx="1037.5" cy="631.1" r="10.1" fill="#ffff80" stroke="#000" stroke-width="2.1"/>
<text x="1048.5" y="642.6" font-family="'Liberation Serif', 'Times New Roman', serif" font-weight="bold" font-size="33.5" fill="#000">20</text>
<circle cx="996" cy="719.6" r="10.1" fill="#fca624" stroke="#000" stroke-width="2.1"/>
<text x="1007" y="731.1" font-family="'Liberation Serif', 'Times New Roman', serif" font-weight="bold" font-size="33.5" fill="#000">21</text>
<circle cx="958.1" cy="828.4" r="10.1" fill="#fca624" stroke="#000" stroke-width="2.1"/>
<text x="969.1" y="839.9" font-family="'Liberation Serif', 'Times New Roman', serif" font-weight="bold" font-size="33.5" fill="#000">22</text>
<circle cx="923.2" cy="911.2" r="10.1" fill="#c95b0b" stroke="#000" stroke-width="2.1"/>
<text x="934.2" y="922.7" font-family="'Liberation Serif', 'Times New Roman', serif" font-weight="bold" font-size="33.5" fill="#000">23</text>
<circle cx="890.1" cy="1000.8" r="10.1" fill="#fca624" stroke="#000" stroke-width="2.1"/>
<text x="901.1" y="1012.3" font-family="'Liberation Serif', 'Times New Roman', serif" font-weight="bold" font-size="33.5" fill="#000">24</text>
<circle cx="846" cy="1063.2" r="10.1" fill="#7d0000" stroke="#000" stroke-width="2.1"/>
<text x="857" y="1074.7" font-family="'Liberation Serif', 'Times New Roman', serif" font-weight="bold" font-size="33.5" fill="#000">25</text>
<circle cx="795.3" cy="1122.4" r="10.1" fill="#fca624" stroke="#000" stroke-width="2.1"/>
<text x="806.3" y="1133.9" font-family="'Liberation Serif', 'Times New Roman', serif" font-weight="bold" font-size="33.5" fill="#000">26</text>
<circle cx="898.6" cy="409.9" r="10.1" fill="#ffff80" stroke="#000" stroke-width="2.1"/>
<text x="909.6" y="421.4" font-family="'Liberation Serif', 'Times New Roman', serif" font-weight="bold" font-size="33.5" fill="#000">27</text>
<circle cx="857.4" cy="498.5" r="10.1" fill="#ffff80" stroke="#000" stroke-width="2.1"/>
<text x="868.4" y="510" font-family="'Liberation Serif', 'Times New Roman', serif" font-weight="bold" font-size="33.5" fill="#000">28</text>
<circle cx="811.8" cy="596.7" r="10.1" fill="#fdd35c" stroke="#000" stroke-width="2.1"/>
<text x="822.8" y="608.2" font-family="'Liberation Serif', 'Times New Roman', serif" font-weight="bold" font-size="33.5" fill="#000">29</text>
<circle cx="773.1" cy="679.3" r="10.1" fill="#c95b0b" stroke="#000" stroke-width="2.1"/>
<text x="784.1" y="690.8" font-family="'Liberation Serif', 'Times New Roman', serif" font-weight="bold" font-size="33.5" fill="#000">30</text>
<circle cx="733.9" cy="779.6" r="10.1" fill="#c95b0b" stroke="#000" stroke-width="2.1"/>
<text x="744.9" y="791.1" font-family="'Liberation Serif', 'Times New Roman', serif" font-weight="bold" font-size="33.5" fill="#000">31</text>
<circle cx="697" cy="865.3" r="10.1" fill="#c95b0b" stroke="#000" stroke-width="2.1"/>
<text x="708" y="876.8" font-family="'Liberation Serif', 'Times New Roman', serif" font-weight="bold" font-size="33.5" fill="#000">32</text>
<circle cx="662.9" cy="941.6" r="10.1" fill="#7d0000" stroke="#000" stroke-width="2.1"/>
<text x="673.9" y="953.1" font-family="'Liberation Serif', 'Times New Roman', serif" font-weight="bold" font-size="33.5" fill="#000">33</text>
<circle cx="624.5" cy="1017.7" r="10.1" fill="#c95b0b" stroke="#000" stroke-width="2.1"/>
<text x="635.5" y="1029.2" font-family="'Liberation Serif', 'Times New Roman', serif" font-weight="bold" font-size="33.5" fill="#000">34</text>
<circle cx="463.4" cy="888.9" r="10.1" fill="#c95b0b" stroke="#000" stroke-width="2.1"/>
<text x="474.4" y="900.4" font-family="'Liberation Serif', 'Times New Roman', serif" font-weight="bold" font-size="33.5" fill="#000">35</text>
<circle cx="492.1" cy="767" r="10.1" fill="#c95b0b" stroke="#000" stroke-width="2.1"/>
<text x="503.1" y="778.5" font-family="'Liberation Serif', 'Times New Roman', serif" font-weight="bold" font-size="33.5" fill="#000">36</text>
<circle cx="526.3" cy="663.8" r="10.1" fill="#c95b0b" stroke="#000" stroke-width="2.1"/>
<text x="537.3" y="675.3" font-family="'Liberation Serif', 'Times New Roman', serif" font-weight="bold" font-size="33.5" fill="#000">37</text>
<circle cx="548" cy="575" r="10.1" fill="#fca624" stroke="#000" stroke-width="2.1"/>
<text x="559" y="586.5" font-family="'Liberation Serif', 'Times New Roman', serif" font-weight="bold" font-size="33.5" fill="#000">38</text>
<circle cx="567.2" cy="478.3" r="10.1" fill="#fca624" stroke="#000" stroke-width="2.1"/>
<text x="578.2" y="489.8" font-family="'Liberation Serif', 'Times New Roman', serif" font-weight="bold" font-size="33.5" fill="#000">39</text>
<circle cx="589.4" cy="390.5" r="10.1" fill="#ffff80" stroke="#000" stroke-width="2.1"/>
<text x="600.4" y="402" font-family="'Liberation Serif', 'Times New Roman', serif" font-weight="bold" font-size="33.5" fill="#000">40</text>
<rect x="102" y="895" width="58" height="750" fill="url(#cbar)"/>
<line x1="160" y1="895" x2="166" y2="895" stroke="#000" stroke-width="1.5"/>
<text x="166" y="906.8" font-family="'Liberation Serif', 'Times New Roman', serif" font-weight="bold" font-size="33" fill="#000">16.00</text>
<line x1="160" y1="1082.4" x2="166" y2="1082.4" stroke="#000" stroke-width="1.5"/>
<text x="166" y="1094.2" font-family="'Liberation Serif', 'Times New Roman', serif" font-weight="bold" font-size="33" fill="#000">14.00</text>
<line x1="160" y1="1269.8" x2="166" y2="1269.8" stroke="#000" stroke-width="1.5"/>
<text x="166" y="1281.6" font-family="'Liberation Serif', 'Times New Roman', serif" font-weight="bold" font-size="33" fill="#000">12.00</text>
<line x1="160" y1="1457.2" x2="166" y2="1457.2" stroke="#000" stroke-width="1.5"/>
<text x="166" y="1469" font-family="'Liberation Serif', 'Times New Roman', serif" font-weight="bold" font-size="33" fill="#000">10.00</text>
<line x1="160" y1="1644.6" x2="166" y2="1644.6" stroke="#000" stroke-width="1.5"/>
<text x="166" y="1658.6" font-family="'Liberation Serif', 'Times New Roman', serif" font-weight="bold" font-size="33" fill="#000">8.00</text>
<text x="103" y="854" font-family="'Liberation Serif', 'Times New Roman', serif" font-weight="bold" font-size="38" fill="#000">Elevation (m)</text>
<text x="341" y="1168.5" font-family="'Liberation Serif', 'Times New Roman', serif" font-weight="bold" font-size="33.5" fill="#000" text-anchor="middle">0</text>
<text x="522.5" y="1168.5" font-family="'Liberation Serif', 'Times New Roman', serif" font-weight="bold" font-size="33.5" fill="#000">10</text><text x="564.5" y="1168.5" font-family="'Liberation Serif', 'Times New Roman', serif" font-weight="bold" font-size="33.5" fill="#000">m</text>
<polyline points="341.2,1183 341.2,1205.5 538.7,1205.5 538.7,1183" fill="none" stroke="#000" stroke-width="2"/>
<text x="319" y="1292.3" font-family="'Liberation Serif', 'Times New Roman', serif" font-weight="bold" font-size="36" fill="#000" textLength="388" lengthAdjust="spacing">Average grain size (mm)</text>
<circle cx="359.7" cy="1345.1" r="9.7" fill="#ffff80" stroke="#000" stroke-width="2.1"/>
<text x="415.8" y="1356.6" font-family="'Liberation Serif', 'Times New Roman', serif" font-weight="bold" font-size="34" fill="#000">0.001 – 0.500</text>
<circle cx="359.7" cy="1401.5" r="9.7" fill="#fdd35c" stroke="#000" stroke-width="2.1"/>
<text x="415.8" y="1413" font-family="'Liberation Serif', 'Times New Roman', serif" font-weight="bold" font-size="34" fill="#000">0.501 – 1.000</text>
<circle cx="359.7" cy="1457.9" r="9.7" fill="#fca624" stroke="#000" stroke-width="2.1"/>
<text x="415.8" y="1469.4" font-family="'Liberation Serif', 'Times New Roman', serif" font-weight="bold" font-size="34" fill="#000">1.001 – 1.500</text>
<circle cx="359.7" cy="1514.3" r="9.7" fill="#c95b0b" stroke="#000" stroke-width="2.1"/>
<text x="415.8" y="1525.8" font-family="'Liberation Serif', 'Times New Roman', serif" font-weight="bold" font-size="34" fill="#000">1.501 – 2.000</text>
<circle cx="359.7" cy="1570.7" r="9.7" fill="#7d0000" stroke="#000" stroke-width="2.1"/>
<text x="415.8" y="1582.2" font-family="'Liberation Serif', 'Times New Roman', serif" font-weight="bold" font-size="34" fill="#000">2.001 – 2.500</text>
<line x1="317.8" y1="1627.4" x2="402.2" y2="1627.4" stroke="#ffff00" stroke-width="6"/>
<text x="416.5" y="1640" font-family="'Liberation Serif', 'Times New Roman', serif" font-weight="bold" font-size="34" fill="#000">Berm Line</text>
<rect x="72.3" y="14.9" width="1655.8" height="1651" fill="none" stroke="#000" stroke-width="1.8"/>
<rect x="166" y="1915" width="1586" height="1521.5" fill="none" stroke="#404040" stroke-width="1.8"/>
<line x1="166" y1="3197.9" x2="1747.8" y2="1915" stroke="#ff0000" stroke-width="2"/>
<line x1="166" y1="3436.5" x2="166" y2="3420.5" stroke="#404040" stroke-width="1.8"/>
<line x1="166" y1="1915" x2="166" y2="1931" stroke="#404040" stroke-width="1.8"/>
<text x="166" y="3501.5" font-family="'Liberation Sans', Arial, sans-serif" font-size="49" fill="#262626" text-anchor="middle">0</text>
<line x1="392.6" y1="3436.5" x2="392.6" y2="3420.5" stroke="#404040" stroke-width="1.8"/>
<line x1="392.6" y1="1915" x2="392.6" y2="1931" stroke="#404040" stroke-width="1.8"/>
<text x="392.6" y="3501.5" font-family="'Liberation Sans', Arial, sans-serif" font-size="49" fill="#262626" text-anchor="middle">5</text>
<line x1="619.1" y1="3436.5" x2="619.1" y2="3420.5" stroke="#404040" stroke-width="1.8"/>
<line x1="619.1" y1="1915" x2="619.1" y2="1931" stroke="#404040" stroke-width="1.8"/>
<text x="619.1" y="3501.5" font-family="'Liberation Sans', Arial, sans-serif" font-size="49" fill="#262626" text-anchor="middle">10</text>
<line x1="845.7" y1="3436.5" x2="845.7" y2="3420.5" stroke="#404040" stroke-width="1.8"/>
<line x1="845.7" y1="1915" x2="845.7" y2="1931" stroke="#404040" stroke-width="1.8"/>
<text x="845.7" y="3501.5" font-family="'Liberation Sans', Arial, sans-serif" font-size="49" fill="#262626" text-anchor="middle">15</text>
<line x1="1072.3" y1="3436.5" x2="1072.3" y2="3420.5" stroke="#404040" stroke-width="1.8"/>
<line x1="1072.3" y1="1915" x2="1072.3" y2="1931" stroke="#404040" stroke-width="1.8"/>
<text x="1072.3" y="3501.5" font-family="'Liberation Sans', Arial, sans-serif" font-size="49" fill="#262626" text-anchor="middle">20</text>
<line x1="1298.9" y1="3436.5" x2="1298.9" y2="3420.5" stroke="#404040" stroke-width="1.8"/>
<line x1="1298.9" y1="1915" x2="1298.9" y2="1931" stroke="#404040" stroke-width="1.8"/>
<text x="1298.9" y="3501.5" font-family="'Liberation Sans', Arial, sans-serif" font-size="49" fill="#262626" text-anchor="middle">25</text>
<line x1="1525.4" y1="3436.5" x2="1525.4" y2="3420.5" stroke="#404040" stroke-width="1.8"/>
<line x1="1525.4" y1="1915" x2="1525.4" y2="1931" stroke="#404040" stroke-width="1.8"/>
<text x="1525.4" y="3501.5" font-family="'Liberation Sans', Arial, sans-serif" font-size="49" fill="#262626" text-anchor="middle">30</text>
<line x1="1752" y1="3436.5" x2="1752" y2="3420.5" stroke="#404040" stroke-width="1.8"/>
<line x1="1752" y1="1915" x2="1752" y2="1931" stroke="#404040" stroke-width="1.8"/>
<text x="1752" y="3501.5" font-family="'Liberation Sans', Arial, sans-serif" font-size="49" fill="#262626" text-anchor="middle">35</text>
<line x1="166" y1="3436.5" x2="182" y2="3436.5" stroke="#404040" stroke-width="1.8"/>
<line x1="1752" y1="3436.5" x2="1736" y2="3436.5" stroke="#404040" stroke-width="1.8"/>
<text x="149.5" y="3454" font-family="'Liberation Sans', Arial, sans-serif" font-size="49" fill="#262626" text-anchor="end">0.2</text>
<line x1="166" y1="3284.3" x2="182" y2="3284.3" stroke="#404040" stroke-width="1.8"/>
<line x1="1752" y1="3284.3" x2="1736" y2="3284.3" stroke="#404040" stroke-width="1.8"/>
<text x="149.5" y="3301.8" font-family="'Liberation Sans', Arial, sans-serif" font-size="49" fill="#262626" text-anchor="end">0.4</text>
<line x1="166" y1="3132.2" x2="182" y2="3132.2" stroke="#404040" stroke-width="1.8"/>
<line x1="1752" y1="3132.2" x2="1736" y2="3132.2" stroke="#404040" stroke-width="1.8"/>
<text x="149.5" y="3149.7" font-family="'Liberation Sans', Arial, sans-serif" font-size="49" fill="#262626" text-anchor="end">0.6</text>
<line x1="166" y1="2980.1" x2="182" y2="2980.1" stroke="#404040" stroke-width="1.8"/>
<line x1="1752" y1="2980.1" x2="1736" y2="2980.1" stroke="#404040" stroke-width="1.8"/>
<text x="149.5" y="2997.6" font-family="'Liberation Sans', Arial, sans-serif" font-size="49" fill="#262626" text-anchor="end">0.8</text>
<line x1="166" y1="2827.9" x2="182" y2="2827.9" stroke="#404040" stroke-width="1.8"/>
<line x1="1752" y1="2827.9" x2="1736" y2="2827.9" stroke="#404040" stroke-width="1.8"/>
<text x="149.5" y="2845.4" font-family="'Liberation Sans', Arial, sans-serif" font-size="49" fill="#262626" text-anchor="end">1</text>
<line x1="166" y1="2675.8" x2="182" y2="2675.8" stroke="#404040" stroke-width="1.8"/>
<line x1="1752" y1="2675.8" x2="1736" y2="2675.8" stroke="#404040" stroke-width="1.8"/>
<text x="149.5" y="2693.2" font-family="'Liberation Sans', Arial, sans-serif" font-size="49" fill="#262626" text-anchor="end">1.2</text>
<line x1="166" y1="2523.6" x2="182" y2="2523.6" stroke="#404040" stroke-width="1.8"/>
<line x1="1752" y1="2523.6" x2="1736" y2="2523.6" stroke="#404040" stroke-width="1.8"/>
<text x="149.5" y="2541.1" font-family="'Liberation Sans', Arial, sans-serif" font-size="49" fill="#262626" text-anchor="end">1.4</text>
<line x1="166" y1="2371.4" x2="182" y2="2371.4" stroke="#404040" stroke-width="1.8"/>
<line x1="1752" y1="2371.4" x2="1736" y2="2371.4" stroke="#404040" stroke-width="1.8"/>
<text x="149.5" y="2388.9" font-family="'Liberation Sans', Arial, sans-serif" font-size="49" fill="#262626" text-anchor="end">1.6</text>
<line x1="166" y1="2219.3" x2="182" y2="2219.3" stroke="#404040" stroke-width="1.8"/>
<line x1="1752" y1="2219.3" x2="1736" y2="2219.3" stroke="#404040" stroke-width="1.8"/>
<text x="149.5" y="2236.8" font-family="'Liberation Sans', Arial, sans-serif" font-size="49" fill="#262626" text-anchor="end">1.8</text>
<line x1="166" y1="2067.1" x2="182" y2="2067.1" stroke="#404040" stroke-width="1.8"/>
<line x1="1752" y1="2067.1" x2="1736" y2="2067.1" stroke="#404040" stroke-width="1.8"/>
<text x="149.5" y="2084.6" font-family="'Liberation Sans', Arial, sans-serif" font-size="49" fill="#262626" text-anchor="end">2</text>
<line x1="166" y1="1915" x2="182" y2="1915" stroke="#404040" stroke-width="1.8"/>
<line x1="1752" y1="1915" x2="1736" y2="1915" stroke="#404040" stroke-width="1.8"/>
<text x="149.5" y="1932.5" font-family="'Liberation Sans', Arial, sans-serif" font-size="49" fill="#262626" text-anchor="end">2.2</text>
<circle cx="1363.6" cy="1980.5" r="7.3" fill="#0072bd"/>
<circle cx="1288.2" cy="2051.3" r="7.3" fill="#0072bd"/>
<circle cx="1341.2" cy="2256.3" r="7.3" fill="#0072bd"/>
<circle cx="1483.6" cy="2285.7" r="7.3" fill="#0072bd"/>
<circle cx="1054.5" cy="2315" r="7.3" fill="#0072bd"/>
<circle cx="1187.3" cy="2463.9" r="7.3" fill="#0072bd"/>
<circle cx="1538.5" cy="2500.9" r="7.3" fill="#0072bd"/>
<circle cx="1037.9" cy="2586.5" r="7.3" fill="#0072bd"/>
<circle cx="1310" cy="2606.9" r="7.3" fill="#0072bd"/>
<circle cx="1041.7" cy="2643.3" r="7.3" fill="#0072bd"/>
<circle cx="878.4" cy="2294" r="7.3" fill="#0072bd"/>
<circle cx="628.7" cy="2378.3" r="7.3" fill="#0072bd"/>
<circle cx="803" cy="2377.6" r="7.3" fill="#0072bd"/>
<circle cx="449.3" cy="2610" r="7.3" fill="#0072bd"/>
<circle cx="593" cy="2593.5" r="7.3" fill="#0072bd"/>
<circle cx="366.9" cy="2738.1" r="7.3" fill="#0072bd"/>
<circle cx="501.6" cy="2793.7" r="7.3" fill="#0072bd"/>
<circle cx="557.2" cy="2821.8" r="7.3" fill="#0072bd"/>
<circle cx="692.6" cy="2797.5" r="7.3" fill="#0072bd"/>
<circle cx="746.2" cy="2829.4" r="7.3" fill="#0072bd"/>
<circle cx="896.3" cy="2805.2" r="7.3" fill="#0072bd"/>
<circle cx="175.3" cy="3257.9" r="7.3" fill="#0072bd"/>
<circle cx="276.2" cy="3296.2" r="7.3" fill="#0072bd"/>
<circle cx="207.9" cy="3323.7" r="7.3" fill="#0072bd"/>
<circle cx="177.2" cy="3331.3" r="7.3" fill="#0072bd"/>
<circle cx="260.3" cy="3379.2" r="7.3" fill="#0072bd"/>
<circle cx="278.1" cy="3383.7" r="7.3" fill="#0072bd"/>
<circle cx="393.7" cy="3401.6" r="7.3" fill="#0072bd"/>
<circle cx="1310" cy="2094.1" r="7.3" fill="#f5550f"/>
<circle cx="1452.3" cy="2347" r="7.3" fill="#f5550f"/>
<circle cx="1095.4" cy="2333.6" r="7.3" fill="#f5550f"/>
<circle cx="1159.2" cy="2387.9" r="7.3" fill="#f5550f"/>
<circle cx="968.3" cy="2396.1" r="7.3" fill="#f5550f"/>
<circle cx="434.6" cy="2554.5" r="7.3" fill="#f5550f"/>
<circle cx="418" cy="2861.4" r="7.3" fill="#f5550f"/>
<circle cx="762.2" cy="2707.5" r="7.3" fill="#f5550f"/>
<circle cx="854.8" cy="2729.8" r="7.3" fill="#f5550f"/>
<circle cx="236.6" cy="3207.5" r="7.3" fill="#f5550f"/>
<circle cx="168.9" cy="3280.9" r="7.3" fill="#f5550f"/>
<circle cx="300.5" cy="3379.2" r="7.3" fill="#f5550f"/>
<rect x="208" y="1943.8" width="747" height="177.2" fill="#fff" stroke="#404040" stroke-width="1.8"/>
<circle cx="267.1" cy="1976.1" r="10.75" fill="#0072bd"/>
<circle cx="267" cy="2032.5" r="10.75" fill="#f5550f"/>
<line x1="217.6" y1="2087.8" x2="315.6" y2="2087.8" stroke="#ff0000" stroke-width="2"/>
<text x="323.5" y="1994.3" font-family="'Liberation Sans', Arial, sans-serif" font-size="44.8" fill="#000">Field samples</text>
<text x="323.5" y="2050" font-family="'Liberation Sans', Arial, sans-serif" font-size="44.5" fill="#000">Calibration experiment samples</text>
<text x="323.5" y="2106.6" font-family="'Liberation Sans', Arial, sans-serif" font-size="44.8" fill="#000">Fitting line</text>
<text x="240" y="2210" font-family="'Liberation Sans', Arial, sans-serif" font-size="48" fill="#000">y = 0.04831*x + 0.5136</text>
<text x="240" y="2283.3" font-family="'Liberation Sans', Arial, sans-serif" font-size="48" fill="#000">R<tspan font-size="34" dy="-25">2</tspan><tspan dy="25"> = 0.7019</tspan></text>
<text x="613.5" y="3564.5" font-family="'Liberation Sans', Arial, sans-serif" font-weight="bold" font-size="49" fill="#262626" textLength="692.5" lengthAdjust="spacingAndGlyphs">Distance to beach berm (m)</text>
<text transform="translate(61.3,2983.5) rotate(-90)" font-family="'Liberation Sans', Arial, sans-serif" font-weight="bold" font-size="52.5" fill="#262626" textLength="612.5" lengthAdjust="spacingAndGlyphs">Average grain size (mm)</text>
<text x="899.5" y="1792.5" font-family="'Liberation Serif', 'Times New Roman', serif" font-weight="bold" font-size="64" fill="#000" text-anchor="middle"><tspan font-weight="normal">(</tspan>a<tspan font-weight="normal">)</tspan></text>
<text x="900.5" y="3650.7" font-family="'Liberation Serif', 'Times New Roman', serif" font-weight="bold" font-size="64" fill="#000" text-anchor="middle"><tspan font-weight="normal">(</tspan>b<tspan font-weight="normal">)</tspan></text>
</svg>
</body></html>
